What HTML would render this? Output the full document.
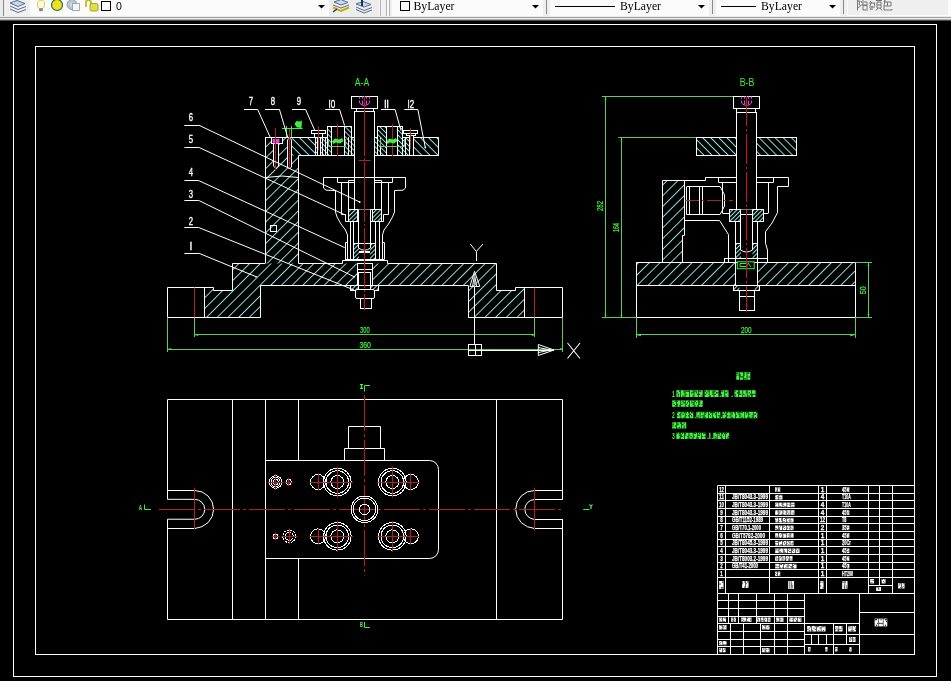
<!DOCTYPE html>
<html><head><meta charset="utf-8"><title>CAD</title>
<style>
html,body{margin:0;padding:0;background:#000;width:951px;height:681px;overflow:hidden;}
svg{position:absolute;left:0;top:0;display:block;will-change:transform}
</style></head><body>
<svg width="951" height="681" viewBox="0 0 951 681">
<defs>
<pattern id="hA" patternUnits="userSpaceOnUse" width="7.57" height="7.57" patternTransform="rotate(45)"><line x1="6.76" y1="0" x2="6.76" y2="7.57" stroke="#8ce6e6" stroke-width="1" shape-rendering="crispEdges"/></pattern>
<pattern id="hA3" patternUnits="userSpaceOnUse" width="7.57" height="7.57" patternTransform="rotate(45)"><line x1="4.26" y1="0" x2="4.26" y2="7.57" stroke="#8ce6e6" stroke-width="1" shape-rendering="crispEdges"/></pattern>
<pattern id="hA2" patternUnits="userSpaceOnUse" width="7.57" height="7.57" patternTransform="rotate(45)"><line x1="1.45" y1="0" x2="1.45" y2="7.57" stroke="#8ce6e6" stroke-width="1" shape-rendering="crispEdges"/></pattern>
<pattern id="hB" patternUnits="userSpaceOnUse" width="5.7" height="5.7" patternTransform="rotate(-45)"><line x1="0.8" y1="0" x2="0.8" y2="5.7" stroke="#8ce6e6" stroke-width="1" shape-rendering="crispEdges"/></pattern>
<pattern id="hC" patternUnits="userSpaceOnUse" width="3" height="3" patternTransform="rotate(45)"><line x1="0.5" y1="0" x2="0.5" y2="3" stroke="#8ce6e6" stroke-width="1" shape-rendering="crispEdges"/></pattern>
<pattern id="hD" patternUnits="userSpaceOnUse" width="3.5" height="3.5" patternTransform="rotate(-45)"><line x1="0.5" y1="0" x2="0.5" y2="3.5" stroke="#8ce6e6" stroke-width="1" shape-rendering="crispEdges"/></pattern>
</defs>

<rect x="0" y="0" width="951" height="16" fill="#fbfbfb"/>
<rect x="0" y="16" width="951" height="1" fill="#ececec"/>
<rect x="0" y="17" width="951" height="1" fill="#a2a2a2"/>
<rect x="0" y="18" width="951" height="1" fill="#ececec"/>
<rect x="0" y="19" width="951" height="1" fill="#b0b0b0"/>
<rect x="0" y="20" width="951" height="1" fill="#4a4a4a"/>
<rect x="0" y="0" width="3" height="16" fill="#ececec"/>
<rect x="3" y="0" width="1" height="16" fill="#8a8a8a"/>
<rect x="4" y="0" width="26" height="16" fill="#efefef"/>
<g fill="none" stroke="#5a6f8a" stroke-width="1"><path d="M10,3 L17,0.5 L25,3.5 L18,6.5 Z" fill="#c8d8ee"/><path d="M10,6 L18,9.5 L26,6.5"/><path d="M10,9 L18,12.5 L26,9.5"/></g>
<g><ellipse cx="41" cy="4.5" rx="3.6" ry="4.3" fill="#fffbd0" stroke="#c8c850" stroke-width="0.9"/><rect x="39.2" y="8.2" width="3.6" height="3" fill="#8080a0"/></g>
<circle cx="57" cy="5" r="5.5" fill="#f0e020" stroke="#207050" stroke-width="1.2"/>
<g><circle cx="72" cy="4.5" r="5" fill="#b8c8d0" stroke="#8aa0b0" stroke-width="1"/><circle cx="72" cy="4.5" r="2" fill="#d0dde0"/><rect x="72.5" y="3.5" width="7" height="7" fill="#f4f4f4" stroke="#8899aa" stroke-width="0.8"/></g>
<g><path d="M86,7 V2.5 Q86,0 88.5,0 Q91,0 91,2.5 V5" fill="none" stroke="#c0c020" stroke-width="1.8"/><rect x="90" y="3.5" width="8" height="7.5" rx="1.5" fill="#e0e040" stroke="#909010" stroke-width="0.8"/></g>
<rect x="101.5" y="1.5" width="9" height="9" fill="#fff" stroke="#000" stroke-width="1"/>
<text x="116" y="10" font-family="Liberation Sans" font-size="10.5" fill="#000">0</text>
<polygon points="318.0,5.0 325.0,5.0 321.5,8.5" fill="#000"/>
<rect x="329" y="0" width="50" height="16" fill="#ececec"/>
<g stroke="#5a6f8a" stroke-width="1" fill="none"><path d="M334,2 L341,-0.5 L348,2.5 L341,5 Z" fill="#c8d8ee"/><path d="M333,5 L341,8 L349,5"/><path d="M333,7.5 L341,11 L349,7.5" stroke="#c0b000" stroke-width="2"/><path d="M333,12 L337,9" stroke="#203080" stroke-width="1.3"/></g>
<g stroke="#5a6f8a" stroke-width="1" fill="none"><path d="M356,4 L363,1.5 L371,4.5 L364,7 Z" fill="#c8d8ee"/><path d="M356,7 L364,10.5 L372,7.5"/><path d="M356,9.5 L364,13 L372,10"/><path d="M362,0 V6" stroke="#203060" stroke-width="2"/></g>
<rect x="380" y="0" width="1" height="16" fill="#b0b0b0"/>
<rect x="386" y="0" width="1" height="16" fill="#b0b0b0"/>
<rect x="389" y="0" width="1" height="16" fill="#b0b0b0"/>
<rect x="381" y="0" width="5" height="16" fill="#f2f2f2"/>
<rect x="390" y="0" width="2" height="16" fill="#f0f0f0"/>
<rect x="400.5" y="1.5" width="9" height="9" fill="#fff" stroke="#000" stroke-width="1"/>
<text x="413.5" y="10.2" font-family="Liberation Serif" font-size="12.5" fill="#000" textLength="41" lengthAdjust="spacingAndGlyphs">ByLayer</text>
<polygon points="532.0,5.0 539.0,5.0 535.5,8.5" fill="#000"/>
<rect x="543" y="0" width="7" height="16" fill="#efefef"/>
<rect x="546" y="0" width="1" height="14" fill="#8a8a8a"/>
<rect x="555" y="6" width="60" height="1" fill="#000"/>
<text x="620" y="10.2" font-family="Liberation Serif" font-size="12.5" fill="#000" textLength="41" lengthAdjust="spacingAndGlyphs">ByLayer</text>
<polygon points="698.0,5.0 705.0,5.0 701.5,8.5" fill="#000"/>
<rect x="709" y="0" width="7" height="16" fill="#efefef"/>
<rect x="712" y="0" width="1" height="14" fill="#8a8a8a"/>
<rect x="721" y="6" width="35" height="1" fill="#000"/>
<text x="761" y="10.2" font-family="Liberation Serif" font-size="12.5" fill="#000" textLength="41" lengthAdjust="spacingAndGlyphs">ByLayer</text>
<polygon points="829.0,5.0 836.0,5.0 832.5,8.5" fill="#000"/>
<rect x="840" y="0" width="7" height="16" fill="#efefef"/>
<rect x="843" y="0" width="1" height="14" fill="#8a8a8a"/>
<rect x="848" y="0" width="100" height="15" fill="#efefef"/>
<g stroke="#767676" stroke-width="1" fill="none"><path d="M857.5,0 V10.5 M857.5,1 H860 L859,4 L860.5,6 L858,8 M861,1 L862,3 M861,5 H867 M863,0 V10 H868 M864,2 H867 V9 M864,5.5 H867"/><path d="M870,1 L872,3 M869,3 H875 M871,3 L870,6 M874,3 L875,6 M869,7 H875 M872,6 V10 M870,10 L871,8 M876,0.5 H882 M877,2 V8 H881 V2 Z M877,5 H881 M878,8 L876,10.5 M880,8 L882,10.5"/><path d="M885,0 L884,2 H891 V6 H884 Z M887.5,2 V6 M884,6 V10 H892 V9"/></g>
<rect x="13.5" y="24.5" width="923.0" height="652.0" stroke="#ffffff" stroke-width="1" fill="none"/>
<rect x="35.5" y="46.5" width="879.0" height="608.0" stroke="#ffffff" stroke-width="1" fill="none"/>
<polygon points="204.5,287.5 213,287.5 213,290.5 232.5,290.5 232.5,263.5 357,263.5 357,285.4 260.5,285.4 260.5,317.5 204.5,317.5" fill="url(#hA)" stroke="none"/>
<polygon points="372.3,263.5 496.6,263.5 496.6,290.7 515,290.7 515,287.6 524.5,287.6 524.5,317.5 468.2,317.5 468.2,285.4 372.3,285.4" fill="url(#hA)" stroke="none"/>
<rect x="265.2" y="137.2" width="26.30000000000001" height="18.30000000000001" fill="url(#hA3)"/>
<rect x="265.2" y="155.5" width="33.30000000000001" height="108.0" fill="url(#hA3)"/>
<rect x="291.5" y="137.2" width="23.69999999999999" height="18.30000000000001" fill="url(#hB)"/>
<rect x="315.2" y="137.2" width="12.100000000000023" height="18.30000000000001" fill="url(#hD)"/>
<rect x="327.3" y="126.6" width="4.199999999999989" height="10.599999999999994" fill="url(#hD)"/>
<rect x="344.1" y="126.6" width="7.399999999999977" height="10.599999999999994" fill="url(#hD)"/>
<rect x="327.3" y="137.2" width="4.199999999999989" height="18.30000000000001" fill="url(#hD)"/>
<rect x="344.1" y="137.2" width="10.099999999999966" height="18.30000000000001" fill="url(#hD)"/>
<rect x="377.5" y="126.7" width="9.100000000000023" height="10.799999999999997" fill="url(#hD)"/>
<rect x="397.2" y="126.7" width="4.800000000000011" height="10.799999999999997" fill="url(#hD)"/>
<rect x="374.9" y="137.5" width="11.700000000000045" height="18.099999999999994" fill="url(#hD)"/>
<rect x="397.2" y="137.5" width="11.800000000000011" height="18.099999999999994" fill="url(#hD)"/>
<rect x="413.8" y="137.5" width="25.0" height="18.099999999999994" fill="url(#hB)"/>
<rect x="348.3" y="209.6" width="8.699999999999989" height="12.300000000000011" fill="url(#hC)"/>
<rect x="372" y="209.6" width="9.600000000000023" height="12.300000000000011" fill="url(#hC)"/>
<rect x="353.5" y="243.6" width="5.5" height="15.400000000000006" fill="url(#hC)"/>
<rect x="370" y="243.6" width="5.5" height="15.400000000000006" fill="url(#hC)"/>
<rect x="350.3" y="285.4" width="8.5" height="5.100000000000023" fill="url(#hC)"/>
<rect x="370.8" y="285.4" width="7.399999999999977" height="5.100000000000023" fill="url(#hC)"/>
<polyline points="167.5,287.5 213.5,287.5 213.5,290.5 232.5,290.5 232.5,263.5 265.2,263.5" stroke="#ffffff" stroke-width="1" fill="none"/>
<polyline points="298.5,263.5 342.5,263.5 342.5,260.5 387.5,260.5 387.5,263.5 496.5,263.5 496.5,290.5 515.5,290.5 515.5,287.5 562.5,287.5 562.5,317.5 468.2,317.5" stroke="#ffffff" stroke-width="1" fill="none"/>
<polyline points="260.5,317.5 167.5,317.5 167.5,287.5" stroke="#ffffff" stroke-width="1" fill="none"/>
<line x1="204.5" y1="287.5" x2="204.5" y2="317.5" stroke="#ffffff" stroke-width="1" />
<line x1="524.5" y1="287.6" x2="524.5" y2="317.5" stroke="#ffffff" stroke-width="1" />
<line x1="260.5" y1="285.5" x2="357" y2="285.5" stroke="#ffffff" stroke-width="1" />
<line x1="372.3" y1="285.5" x2="468.2" y2="285.5" stroke="#ffffff" stroke-width="1" />
<line x1="260.5" y1="285.4" x2="260.5" y2="317.5" stroke="#ffffff" stroke-width="1" />
<line x1="468.5" y1="285.4" x2="468.5" y2="317.5" stroke="#ffffff" stroke-width="1" />
<line x1="194.5" y1="287.5" x2="194.5" y2="317.5" stroke="#b02222" stroke-width="1" />
<line x1="534.5" y1="287.6" x2="534.5" y2="317.5" stroke="#b02222" stroke-width="1" />
<line x1="357.5" y1="263.5" x2="357.5" y2="285.4" stroke="#ffffff" stroke-width="1" />
<line x1="372.5" y1="263.5" x2="372.5" y2="285.4" stroke="#ffffff" stroke-width="1" />
<rect x="357.5" y="263.5" width="15.0" height="6.0" stroke="#ffffff" stroke-width="1" fill="none"/>
<line x1="265.5" y1="137.2" x2="265.5" y2="263.5" stroke="#ffffff" stroke-width="1" />
<line x1="298.5" y1="155.5" x2="298.5" y2="263.5" stroke="#ffffff" stroke-width="1" />
<path d="M265.2,177.5 Q282,174.5 298.5,177.5" stroke="#fff" fill="none" stroke-width="1"/>
<rect x="270.5" y="225.5" width="6.0" height="6.0" stroke="#ffffff" stroke-width="1" fill="none"/>
<line x1="265.2" y1="137.5" x2="327.3" y2="137.5" stroke="#ffffff" stroke-width="1" />
<line x1="351.5" y1="137.5" x2="354.2" y2="137.5" stroke="#ffffff" stroke-width="1" />
<line x1="298.5" y1="155.5" x2="354.2" y2="155.5" stroke="#ffffff" stroke-width="1" />
<line x1="374.9" y1="137.5" x2="377.5" y2="137.5" stroke="#ffffff" stroke-width="1" />
<line x1="402" y1="137.5" x2="438.8" y2="137.5" stroke="#ffffff" stroke-width="1" />
<line x1="374.9" y1="155.5" x2="438.8" y2="155.5" stroke="#ffffff" stroke-width="1" />
<line x1="438.5" y1="137.5" x2="438.5" y2="155.6" stroke="#ffffff" stroke-width="1" />
<line x1="315.5" y1="137.2" x2="315.5" y2="155.5" stroke="#ffffff" stroke-width="1" />
<rect x="271.5" y="137.5" width="11.0" height="6.0" stroke="#ffffff" stroke-width="1" fill="#000"/>
<path d="M273.5,143.9 V166 L276,168.5 L278.5,166 V143.9" fill="#000" stroke="#fff"/>
<path d="M272.5,139 h7 v3 l-1.5,1.5 h-4 l-1.5,-1.5 z" fill="#e040e0"/>
<line x1="275.5" y1="128" x2="275.5" y2="170" stroke="#b02222" stroke-width="1" />
<path d="M287.5,167 V140 Q289.5,136.5 291.5,140 V167 L289.5,169 Z" fill="#000" stroke="#fff"/>
<line x1="289.5" y1="128" x2="289.5" y2="168" stroke="#b02222" stroke-width="1.3" />
<line x1="282" y1="128.5" x2="302.6" y2="128.5" stroke="#3cf03c" stroke-width="1" />
<line x1="286.5" y1="126" x2="286.5" y2="137" stroke="#3cf03c" stroke-width="1" />
<line x1="291.5" y1="126" x2="291.5" y2="137" stroke="#3cf03c" stroke-width="1" />
<path d="M294.5,124 L296.5,121 L300,121.5 L302,120.5 L301.5,128 L297,127.5 L295.5,125.5 Z" fill="#3cf03c"/>
<rect x="311.5" y="130.5" width="14.0" height="3.0" stroke="#ffffff" stroke-width="1" fill="#000"/>
<rect x="314.5" y="133.5" width="8.0" height="4.0" stroke="#ffffff" stroke-width="1" fill="#000"/>
<rect x="317.5" y="137.5" width="3.0" height="18.0" stroke="#ffffff" stroke-width="1" fill="#000"/>
<line x1="318.5" y1="126" x2="318.5" y2="150" stroke="#b02222" stroke-width="1" />
<line x1="322.5" y1="137.2" x2="322.5" y2="155.5" stroke="#ffffff" stroke-width="1" />
<line x1="325.5" y1="137.2" x2="325.5" y2="155.5" stroke="#ffffff" stroke-width="1" />
<line x1="348.5" y1="137.2" x2="348.5" y2="155.5" stroke="#ffffff" stroke-width="1" />
<line x1="380.5" y1="137.5" x2="380.5" y2="155.6" stroke="#ffffff" stroke-width="1" />
<line x1="405.5" y1="137.5" x2="405.5" y2="155.6" stroke="#ffffff" stroke-width="1" />
<rect x="327.5" y="126.5" width="24.0" height="29.0" stroke="#ffffff" stroke-width="1" fill="none"/>
<line x1="331.5" y1="126.6" x2="331.5" y2="155.5" stroke="#ffffff" stroke-width="1" />
<line x1="344.5" y1="126.6" x2="344.5" y2="155.5" stroke="#ffffff" stroke-width="1" />
<line x1="337.5" y1="124" x2="337.5" y2="156" stroke="#b02222" stroke-width="1" />
<path d="M332,141 L335,138.5 L339,139.5 L342,138 L343.5,141 L340,143.5 L336,142.5 L333,144 Z" fill="#3cf03c"/>
<polyline points="328.5,139 328.5,146.5 345.5,146.5 345.5,139" stroke="#62c862" stroke-width="1" fill="none"/>
<rect x="377.5" y="126.5" width="25.0" height="29.0" stroke="#ffffff" stroke-width="1" fill="none"/>
<line x1="386.5" y1="126.7" x2="386.5" y2="155.6" stroke="#ffffff" stroke-width="1" />
<line x1="397.5" y1="126.7" x2="397.5" y2="155.6" stroke="#ffffff" stroke-width="1" />
<line x1="392.5" y1="124" x2="392.5" y2="156" stroke="#b02222" stroke-width="1" />
<path d="M386.5,141 L389.5,138.5 L393,139.5 L396,138 L397.5,141 L394,143.5 L390,142.5 L387.5,144 Z" fill="#3cf03c"/>
<polyline points="380.5,138.7 380.5,146.5 404.5,146.5 404.5,138.7" stroke="#62c862" stroke-width="1" fill="none"/>
<rect x="403.5" y="130.5" width="14.0" height="3.0" stroke="#ffffff" stroke-width="1" fill="#000"/>
<rect x="406.5" y="133.5" width="9.0" height="2.0" stroke="#ffffff" stroke-width="1" fill="#000"/>
<rect x="409.5" y="135.5" width="4.0" height="20.0" stroke="#ffffff" stroke-width="1" fill="#000"/>
<line x1="410.5" y1="128" x2="410.5" y2="149" stroke="#b02222" stroke-width="1" />
<rect x="354.5" y="111.5" width="20.0" height="98.0" stroke="#ffffff" stroke-width="1" fill="#000"/>
<rect x="351.5" y="96.5" width="26.0" height="12.0" stroke="#ffffff" stroke-width="1" fill="#000"/>
<rect x="356.5" y="108.5" width="17.0" height="3.0" stroke="#ffffff" stroke-width="1" fill="#000"/>
<g stroke="#e040e0" stroke-width="1" fill="none"><path d="M359.5,96.5 V98.8 M362.5,96.5 V98.8 M366.5,96.5 V98.8 M369.5,96.5 V98.8 M359.5,100.5 V103 Q364.5,108 369.5,103 V100.5 M362.5,100.5 V104.5 M366.5,100.5 V104.5"/></g>
<line x1="358.9" y1="160.5" x2="370.7" y2="160.5" stroke="#b02222" stroke-width="1" />
<polyline points="347.5,259 347.5,235 345.5,230 341,224 337,217 335.5,212 335.5,190.5 326,190.2 323.5,188 323.5,177.5 405.5,177.5 405.5,188 403,190.2 394.5,190.5 394.5,212 392.5,217 388.5,224 384,230 382.5,235 382.5,259" stroke="#ffffff" stroke-width="1" fill="none"/>
<polyline points="337.5,177.4 337.5,182.5 354.2,182.5" stroke="#ffffff" stroke-width="1" fill="none"/>
<polyline points="374.9,182.5 392.5,182.5 392.5,177.4" stroke="#ffffff" stroke-width="1" fill="none"/>
<line x1="341.5" y1="182.3" x2="341.5" y2="214.7" stroke="#ffffff" stroke-width="1" />
<line x1="388.5" y1="182.3" x2="388.5" y2="214.7" stroke="#ffffff" stroke-width="1" />
<polyline points="348.5,209.6 348.5,180.5 354.2,180.5" stroke="#ffffff" stroke-width="1" fill="none"/>
<polyline points="381.5,209.6 381.5,180.5 374.9,180.5" stroke="#ffffff" stroke-width="1" fill="none"/>
<polyline points="341.6,214.5 345.5,214.5 345.5,221.5 383.5,221.5 383.5,214.5 388.3,214.5" stroke="#ffffff" stroke-width="1" fill="none"/>
<rect x="348.5" y="209.5" width="9.0" height="12.0" stroke="#ffffff" stroke-width="1" fill="none"/>
<rect x="372.5" y="209.5" width="9.0" height="12.0" stroke="#ffffff" stroke-width="1" fill="none"/>
<line x1="357" y1="209.5" x2="372" y2="209.5" stroke="#ffffff" stroke-width="1" />
<path d="M358.5,209.6 V248 Q364.5,252.5 370.5,248 V209.6" fill="#000" stroke="#fff"/>
<line x1="359" y1="251.5" x2="370" y2="251.5" stroke="#ffffff" stroke-width="1" />
<line x1="359" y1="252.5" x2="370" y2="252.5" stroke="#ffffff" stroke-width="1" />
<line x1="350.5" y1="222" x2="350.5" y2="259" stroke="#ffffff" stroke-width="1" />
<line x1="353.5" y1="222" x2="353.5" y2="259" stroke="#ffffff" stroke-width="1" />
<line x1="375.5" y1="222" x2="375.5" y2="259" stroke="#ffffff" stroke-width="1" />
<line x1="379.5" y1="222" x2="379.5" y2="259" stroke="#ffffff" stroke-width="1" />
<polyline points="347.6,242.5 345.5,242.5 345.5,259" stroke="#ffffff" stroke-width="1" fill="none"/>
<polyline points="382.3,242.5 384.5,242.5 384.5,259" stroke="#ffffff" stroke-width="1" fill="none"/>
<line x1="345" y1="259.5" x2="384.6" y2="259.5" stroke="#ffffff" stroke-width="1" />
<rect x="353.5" y="243.5" width="22.0" height="16.0" stroke="#ffffff" stroke-width="1" fill="none"/>
<rect x="358.5" y="272.5" width="12.0" height="19.0" stroke="#ffffff" stroke-width="1" fill="#000"/>
<rect x="350.5" y="285.5" width="28.0" height="5.0" stroke="#ffffff" stroke-width="1" fill="none"/>
<rect x="355.5" y="289.5" width="19.0" height="9.0" stroke="#ffffff" stroke-width="1" fill="#000" rx="1.5"/>
<rect x="360.5" y="298.5" width="11.0" height="10.0" stroke="#ffffff" stroke-width="1" fill="#000"/>
<line x1="364.5" y1="96" x2="364.5" y2="310" stroke="#b02222" stroke-width="1.2" stroke-dasharray="60,2,2,2"/>
<line x1="184.4" y1="125.5" x2="198.7" y2="125.5" stroke="#ffffff" stroke-width="1" />
<line x1="198.7" y1="125.1" x2="359.7" y2="202" stroke="#ffffff" stroke-width="1" />
<text x="191" y="121.2" font-family="Liberation Sans" font-size="10.8" fill="#ffffff" text-anchor="middle" stroke="#fff" stroke-width="0.35" textLength="4.3" lengthAdjust="spacingAndGlyphs">6</text>
<line x1="184.4" y1="147.5" x2="198.7" y2="147.5" stroke="#ffffff" stroke-width="1" />
<line x1="198.7" y1="147.3" x2="345.7" y2="215.2" stroke="#ffffff" stroke-width="1" />
<text x="191" y="142.5" font-family="Liberation Sans" font-size="10.8" fill="#ffffff" text-anchor="middle" stroke="#fff" stroke-width="0.35" textLength="4.3" lengthAdjust="spacingAndGlyphs">5</text>
<line x1="184.4" y1="180.5" x2="198.7" y2="180.5" stroke="#ffffff" stroke-width="1" />
<line x1="198.7" y1="180.6" x2="344.7" y2="247.6" stroke="#ffffff" stroke-width="1" />
<text x="191" y="175.7" font-family="Liberation Sans" font-size="10.8" fill="#ffffff" text-anchor="middle" stroke="#fff" stroke-width="0.35" textLength="4.3" lengthAdjust="spacingAndGlyphs">4</text>
<line x1="184.4" y1="200.5" x2="198.7" y2="200.5" stroke="#ffffff" stroke-width="1" />
<line x1="198.7" y1="200.4" x2="355" y2="277.2" stroke="#ffffff" stroke-width="1" />
<text x="191" y="197.7" font-family="Liberation Sans" font-size="10.8" fill="#ffffff" text-anchor="middle" stroke="#fff" stroke-width="0.35" textLength="4.3" lengthAdjust="spacingAndGlyphs">3</text>
<line x1="184.4" y1="227.5" x2="198.7" y2="227.5" stroke="#ffffff" stroke-width="1" />
<line x1="198.7" y1="227.5" x2="354" y2="290" stroke="#ffffff" stroke-width="1" />
<text x="191" y="224.7" font-family="Liberation Sans" font-size="10.8" fill="#ffffff" text-anchor="middle" stroke="#fff" stroke-width="0.35" textLength="4.3" lengthAdjust="spacingAndGlyphs">2</text>
<line x1="184.4" y1="253.5" x2="198.7" y2="253.5" stroke="#ffffff" stroke-width="1" />
<line x1="198.7" y1="253.2" x2="256" y2="276.7" stroke="#ffffff" stroke-width="1" />
<text x="191" y="250.2" font-family="Liberation Sans" font-size="10.8" fill="#ffffff" text-anchor="middle" stroke="#fff" stroke-width="0.35">l</text>
<circle cx="256" cy="276.7" r="0.9" fill="#fff"/>
<circle cx="359.7" cy="202" r="0.9" fill="#fff"/>
<line x1="244" y1="109.5" x2="257.6" y2="109.5" stroke="#ffffff" stroke-width="1" />
<line x1="257.6" y1="109.3" x2="270.2" y2="137.2" stroke="#ffffff" stroke-width="1" />
<text x="250.8" y="105.2" font-family="Liberation Sans" font-size="10.8" fill="#ffffff" text-anchor="middle" stroke="#fff" stroke-width="0.35" textLength="4.3" lengthAdjust="spacingAndGlyphs">7</text>
<line x1="265.1" y1="109.5" x2="279.4" y2="109.5" stroke="#ffffff" stroke-width="1" />
<line x1="279.4" y1="109.3" x2="287.9" y2="138" stroke="#ffffff" stroke-width="1" />
<text x="273" y="105.2" font-family="Liberation Sans" font-size="10.8" fill="#ffffff" text-anchor="middle" stroke="#fff" stroke-width="0.35" textLength="4.3" lengthAdjust="spacingAndGlyphs">8</text>
<line x1="292" y1="109.5" x2="305.5" y2="109.5" stroke="#ffffff" stroke-width="1" />
<line x1="305.5" y1="109.3" x2="314.8" y2="130.5" stroke="#ffffff" stroke-width="1" />
<text x="298.8" y="105.2" font-family="Liberation Sans" font-size="10.8" fill="#ffffff" text-anchor="middle" stroke="#fff" stroke-width="0.35" textLength="4.3" lengthAdjust="spacingAndGlyphs">9</text>
<line x1="325.2" y1="109.5" x2="339.5" y2="109.5" stroke="#ffffff" stroke-width="1" />
<line x1="339.5" y1="109.3" x2="344.6" y2="125.6" stroke="#ffffff" stroke-width="1" />
<text x="332" y="107.7" font-family="Liberation Sans" font-size="10.8" fill="#ffffff" text-anchor="middle" stroke="#fff" stroke-width="0.35" textLength="6.3" lengthAdjust="spacingAndGlyphs">l0</text>
<line x1="381" y1="109.5" x2="395" y2="109.5" stroke="#ffffff" stroke-width="1" />
<line x1="395" y1="109.3" x2="401" y2="130.7" stroke="#ffffff" stroke-width="1" />
<text x="386.6" y="107.7" font-family="Liberation Sans" font-size="10.8" fill="#ffffff" text-anchor="middle" stroke="#fff" stroke-width="0.35" textLength="4.5" lengthAdjust="spacingAndGlyphs">ll</text>
<line x1="404.3" y1="109.5" x2="417.8" y2="109.5" stroke="#ffffff" stroke-width="1" />
<line x1="417.8" y1="109.3" x2="425.3" y2="147.5" stroke="#ffffff" stroke-width="1" />
<text x="411" y="107.7" font-family="Liberation Sans" font-size="10.8" fill="#ffffff" text-anchor="middle" stroke="#fff" stroke-width="0.35" textLength="6.3" lengthAdjust="spacingAndGlyphs">l2</text>
<circle cx="425.3" cy="147.5" r="0.9" fill="#fff"/>
<text x="362" y="86" font-family="Liberation Sans" font-size="10.5" fill="#3cf03c" text-anchor="middle" textLength="14.5" lengthAdjust="spacingAndGlyphs">A-A</text>
<line x1="194.5" y1="317.5" x2="194.5" y2="337" stroke="#62c862" stroke-width="1" />
<line x1="534.5" y1="317.5" x2="534.5" y2="337" stroke="#62c862" stroke-width="1" />
<line x1="194.6" y1="334.5" x2="534.6" y2="334.5" stroke="#62c862" stroke-width="1" />
<line x1="167.5" y1="317.5" x2="167.5" y2="352" stroke="#62c862" stroke-width="1" />
<line x1="562.5" y1="317.5" x2="562.5" y2="352" stroke="#62c862" stroke-width="1" />
<line x1="167.5" y1="349.5" x2="562.5" y2="349.5" stroke="#62c862" stroke-width="1" />
<polygon points="195,335 198.1,334 198.1,336" fill="#3cf03c"/><polygon points="535,335 531.9,334 531.9,336" fill="#3cf03c"/>
<polygon points="168,349 171.1,348 171.1,350" fill="#3cf03c"/><polygon points="563,349 559.9,348 559.9,350" fill="#3cf03c"/>
<text x="364.8" y="333" font-family="Liberation Sans" font-size="8.5" fill="#3cf03c" text-anchor="middle" stroke="#3cf03c" stroke-width="0.25" textLength="9.5" lengthAdjust="spacingAndGlyphs">300</text>
<text x="365.2" y="347.8" font-family="Liberation Sans" font-size="8.5" fill="#3cf03c" text-anchor="middle" stroke="#3cf03c" stroke-width="0.25" textLength="11.5" lengthAdjust="spacingAndGlyphs">360</text>
<line x1="474.5" y1="286.4" x2="474.5" y2="344.1" stroke="#ffffff" stroke-width="1" />
<polygon points="474.5,271.3 469.9,286.4 479.8,286.4" fill="none" stroke="#fff"/>
<line x1="472.6" y1="286.4" x2="474.5" y2="274.5" stroke="#ffffff" stroke-width="1" />
<line x1="476.6" y1="286.4" x2="474.5" y2="274.5" stroke="#ffffff" stroke-width="1" />
<line x1="474.5" y1="275" x2="474.5" y2="286.4" stroke="#aaa" stroke-width="1" />
<path d="M470.3,244 L476.3,251.5 L483,244 M476.5,251.5 V261" stroke="#fff" fill="none" stroke-width="1"/>
<rect x="468.5" y="344.5" width="13.0" height="11.0" stroke="#ffffff" stroke-width="1" fill="none"/>
<line x1="475.5" y1="344.1" x2="475.5" y2="355.9" stroke="#ffffff" stroke-width="1" />
<line x1="468.2" y1="350.5" x2="481.7" y2="350.5" stroke="#ffffff" stroke-width="1" />
<line x1="481.7" y1="350.5" x2="554" y2="350.5" stroke="#ffffff" stroke-width="1" />
<polygon points="554,350 538.3,344.5 538.3,355.5" fill="none" stroke="#fff"/>
<line x1="538.3" y1="347.5" x2="551" y2="350" stroke="#ffffff" stroke-width="1" />
<line x1="538.3" y1="352.5" x2="551" y2="350" stroke="#ffffff" stroke-width="1" />
<path d="M567.5,343 L580,358.5 M580,343 L567.5,358.5" stroke="#fff" fill="none" stroke-width="1.1"/>
<polygon points="636.4,262.9 735.8,262.9 735.8,285.7 636.4,285.7" fill="url(#hA2)" stroke="none"/>
<polygon points="757.8,262.9 855.2,262.9 855.2,285.7 757.8,285.7" fill="url(#hA2)" stroke="none"/>
<polygon points="662.5,180.5 684.9,180.5 684.9,235 682.4,235 682.4,262.9 662.5,262.9" fill="url(#hA2)" stroke="none"/>
<rect x="696" y="137.2" width="40.200000000000045" height="18.30000000000001" fill="url(#hB)"/>
<rect x="756.6" y="137.2" width="39.39999999999998" height="18.30000000000001" fill="url(#hB)"/>
<rect x="729.2" y="209.4" width="11.0" height="12.0" fill="url(#hC)"/>
<rect x="752" y="209.4" width="11" height="12.0" fill="url(#hC)"/>
<rect x="735.8" y="243.4" width="5.2000000000000455" height="15.499999999999972" fill="url(#hC)"/>
<rect x="752.5" y="243.4" width="5.2999999999999545" height="15.499999999999972" fill="url(#hC)"/>
<rect x="733.5" y="285.7" width="5.899999999999977" height="4.600000000000023" fill="url(#hC)"/>
<rect x="754.6" y="285.7" width="4.699999999999932" height="4.600000000000023" fill="url(#hC)"/>
<rect x="636.5" y="262.5" width="219.0" height="55.0" stroke="#ffffff" stroke-width="1" fill="none"/>
<line x1="636.4" y1="285.5" x2="735.8" y2="285.5" stroke="#ffffff" stroke-width="1" />
<line x1="757.8" y1="285.5" x2="855.2" y2="285.5" stroke="#ffffff" stroke-width="1" />
<line x1="735.5" y1="262.9" x2="735.5" y2="285.7" stroke="#ffffff" stroke-width="1" />
<line x1="757.5" y1="262.9" x2="757.5" y2="285.7" stroke="#ffffff" stroke-width="1" />
<polyline points="662.5,262.9 662.5,180.5 705.5,180.5 705.5,177.5 788.5,177.5 788.5,186.5 777.5,186.5 777.5,212.6 772,223 765.5,231.7 765.5,243.4 767.5,250 767.5,262.9" stroke="#ffffff" stroke-width="1" fill="none"/>
<polyline points="684.5,180.5 684.5,235.5 682.5,235.5 682.5,262.9" stroke="#ffffff" stroke-width="1" fill="none"/>
<polyline points="686.6,186.5 720,186.5 722,190 724.5,195 724.5,206 722,211 720,214.5 686.5,214.5 686.5,186.9" stroke="#ffffff" stroke-width="1" fill="none"/>
<line x1="699.5" y1="186.9" x2="699.5" y2="214.1" stroke="#ffffff" stroke-width="1" />
<line x1="702.5" y1="186.9" x2="702.5" y2="214.1" stroke="#ffffff" stroke-width="1" />
<line x1="689.5" y1="186.9" x2="689.5" y2="214.1" stroke="#ffffff" stroke-width="1" />
<line x1="684.9" y1="220.5" x2="719.7" y2="220.5" stroke="#ffffff" stroke-width="1" />
<polyline points="719.7,220.7 728.5,234.6 728.5,262.9" stroke="#ffffff" stroke-width="1" fill="none"/>
<polyline points="718.5,177.3 718.5,182.5 736.2,182.5" stroke="#ffffff" stroke-width="1" fill="none"/>
<polyline points="756.6,182.5 773.5,182.5 773.5,177.3" stroke="#ffffff" stroke-width="1" fill="none"/>
<line x1="722.5" y1="182.5" x2="722.5" y2="213.3" stroke="#ffffff" stroke-width="1" />
<line x1="768.5" y1="182.5" x2="768.5" y2="213.3" stroke="#ffffff" stroke-width="1" />
<polyline points="722.6,213.5 729.2,213.5" stroke="#ffffff" stroke-width="1" fill="none"/>
<polyline points="763,213.5 768.1,213.5" stroke="#ffffff" stroke-width="1" fill="none"/>
<rect x="729.5" y="209.5" width="34.0" height="12.0" stroke="#ffffff" stroke-width="1" fill="none"/>
<line x1="735.5" y1="221.4" x2="735.5" y2="262.9" stroke="#ffffff" stroke-width="1" />
<line x1="757.5" y1="221.4" x2="757.5" y2="262.9" stroke="#ffffff" stroke-width="1" />
<rect x="735.5" y="243.5" width="22.0" height="15.0" stroke="#ffffff" stroke-width="1" fill="none"/>
<rect x="724.5" y="258.5" width="43.0" height="4.0" stroke="#ffffff" stroke-width="1" fill="none"/>
<rect x="736.5" y="112.5" width="20.0" height="97.0" stroke="#ffffff" stroke-width="1" fill="#000"/>
<rect x="733.5" y="96.5" width="26.0" height="12.0" stroke="#ffffff" stroke-width="1" fill="#000"/>
<rect x="736.5" y="108.5" width="19.0" height="4.0" stroke="#ffffff" stroke-width="1" fill="#000"/>
<g stroke="#e040e0" stroke-width="1" fill="none"><path d="M741.5,96.5 V98.8 M744.5,96.5 V98.8 M748.5,96.5 V98.8 M751.5,96.5 V98.8 M741.5,100.5 V103 Q746.5,108 751.5,103 V100.5 M744.5,100.5 V104.5 M748.5,100.5 V104.5"/></g>
<path d="M740.5,209.4 V250 Q746.5,254 752.5,250 V209.4" fill="#000" stroke="#fff"/>
<line x1="740.2" y1="214.5" x2="752" y2="214.5" stroke="#ffffff" stroke-width="1" />
<rect x="737.3" y="261.8" width="16.9" height="6.9" fill="#000" stroke="#3cf03c"/>
<path d="M740,263.5 h7 v3 h-7 z M748,263 l3,4" stroke="#3cf03c" fill="none"/>
<rect x="733.5" y="285.5" width="26.0" height="5.0" stroke="#ffffff" stroke-width="1" fill="none"/>
<rect x="739.5" y="290.5" width="15.0" height="20.0" stroke="#ffffff" stroke-width="1" fill="#000"/>
<line x1="739.4" y1="296.5" x2="754.7" y2="296.5" stroke="#ffffff" stroke-width="1" />
<rect x="696.5" y="137.5" width="40.0" height="18.0" stroke="#ffffff" stroke-width="1" fill="none"/>
<rect x="756.5" y="137.5" width="40.0" height="18.0" stroke="#ffffff" stroke-width="1" fill="none"/>
<line x1="746.6" y1="96" x2="746.6" y2="312" stroke="#b02222" stroke-width="1.2" stroke-dasharray="30,3,2,3"/>
<line x1="685" y1="200.5" x2="733" y2="200.5" stroke="#b02222" stroke-width="1.2" stroke-dasharray="14,3,2,3"/>
<text x="747" y="85.7" font-family="Liberation Sans" font-size="10.5" fill="#3cf03c" text-anchor="middle" textLength="14.7" lengthAdjust="spacingAndGlyphs">B-B</text>
<line x1="601.8" y1="96.5" x2="733" y2="96.5" stroke="#62c862" stroke-width="1" />
<line x1="618.3" y1="137.5" x2="696" y2="137.5" stroke="#62c862" stroke-width="1" />
<line x1="605.5" y1="96.3" x2="605.5" y2="317.2" stroke="#62c862" stroke-width="1" />
<line x1="621.5" y1="137.2" x2="621.5" y2="317.2" stroke="#62c862" stroke-width="1" />
<line x1="602" y1="317.5" x2="636.4" y2="317.5" stroke="#62c862" stroke-width="1" />
<polygon points="605.5,96.5 604.5,99.6 606.5,99.6" fill="#3cf03c"/><polygon points="621.5,137.5 620.5,140.6 622.5,140.6" fill="#3cf03c"/>
<polygon points="605.5,317.5 604.5,314.4 606.5,314.4" fill="#3cf03c"/><polygon points="621.5,317.5 620.5,314.4 622.5,314.4" fill="#3cf03c"/>
<text x="0" y="0" font-family="Liberation Sans" font-size="8.5" fill="#3cf03c" text-anchor="middle" stroke="#3cf03c" stroke-width="0.25" transform="translate(603,206) rotate(-90)" textLength="10" lengthAdjust="spacingAndGlyphs">282</text>
<text x="0" y="0" font-family="Liberation Sans" font-size="8.5" fill="#3cf03c" text-anchor="middle" stroke="#3cf03c" stroke-width="0.25" transform="translate(618.8,227.6) rotate(-90)" textLength="9" lengthAdjust="spacingAndGlyphs">164</text>
<line x1="636.5" y1="317.2" x2="636.5" y2="338" stroke="#62c862" stroke-width="1" />
<line x1="855.5" y1="317.2" x2="855.5" y2="338" stroke="#62c862" stroke-width="1" />
<line x1="636.4" y1="334.5" x2="855.2" y2="334.5" stroke="#62c862" stroke-width="1" />
<polygon points="636.4,335.1 640.9,333.9 640.9,336.3" fill="#3cf03c"/><polygon points="855.2,335.1 850.2,333.9 850.2,336.3" fill="#3cf03c"/>
<text x="746.3" y="332.6" font-family="Liberation Sans" font-size="8.5" fill="#3cf03c" text-anchor="middle" stroke="#3cf03c" stroke-width="0.25" textLength="10.6" lengthAdjust="spacingAndGlyphs">200</text>
<line x1="855.2" y1="262.5" x2="872" y2="262.5" stroke="#62c862" stroke-width="1" />
<line x1="855.2" y1="317.5" x2="872" y2="317.5" stroke="#62c862" stroke-width="1" />
<line x1="868.5" y1="262.9" x2="868.5" y2="317.2" stroke="#62c862" stroke-width="1" />
<polygon points="868.5,262.9 867.5,266 869.5,266" fill="#3cf03c"/><polygon points="868.5,317.2 867.5,314.1 869.5,314.1" fill="#3cf03c"/>
<text x="0" y="0" font-family="Liberation Sans" font-size="8.5" fill="#3cf03c" text-anchor="middle" stroke="#3cf03c" stroke-width="0.25" transform="translate(865.8,290.3) rotate(-90)" textLength="8" lengthAdjust="spacingAndGlyphs">50</text>
<polyline points="167.5,490.5 167.5,399.5 562.5,399.5 562.5,490.4" stroke="#ffffff" stroke-width="1" fill="none"/>
<polyline points="167.5,528.1 167.5,619.5 562.5,619.5 562.5,528.3" stroke="#ffffff" stroke-width="1" fill="none"/>
<line x1="167.5" y1="490.5" x2="167.5" y2="499.3" stroke="#ffffff" stroke-width="1" />
<line x1="167.5" y1="519.2" x2="167.5" y2="528.1" stroke="#ffffff" stroke-width="1" />
<line x1="562.5" y1="490.4" x2="562.5" y2="499.6" stroke="#ffffff" stroke-width="1" />
<line x1="562.5" y1="519.2" x2="562.5" y2="528.3" stroke="#ffffff" stroke-width="1" />
<line x1="232.5" y1="399.5" x2="232.5" y2="619.5" stroke="#ffffff" stroke-width="1" />
<line x1="265.5" y1="399.5" x2="265.5" y2="619.5" stroke="#ffffff" stroke-width="1" />
<line x1="298.5" y1="399.5" x2="298.5" y2="460.5" stroke="#ffffff" stroke-width="1" />
<line x1="298.5" y1="558.5" x2="298.5" y2="619.5" stroke="#ffffff" stroke-width="1" />
<line x1="496.5" y1="399.5" x2="496.5" y2="619.5" stroke="#ffffff" stroke-width="1" />
<path d="M265.5,460.5 H429.5 A9,9 0 0 1 438.5,469.5 V549.5 A9,9 0 0 1 429.5,558.5 H265.5" fill="none" stroke="#fff"/>
<polyline points="344.5,460.5 344.5,448.5 348.5,448.5 348.5,426.5 380.5,426.5 380.5,448.5 384.5,448.5 384.5,460.5" stroke="#ffffff" stroke-width="1" fill="none"/>
<line x1="348.2" y1="448.5" x2="380.8" y2="448.5" stroke="#ffffff" stroke-width="1" />
<polyline points="167.5,490.5 194.8,490.5 201.99,491.93 208.09,496.01 212.17,502.11 213.6,509.3 212.17,516.49 208.09,522.59 201.99,526.67 194.8,528.5 167.5,528.5" stroke="#ffffff" stroke-width="1" fill="none"/>
<polyline points="167.5,499.3 194.8,499.35 198.61,500.11 201.84,502.26 203.99,505.49 204.75,509.3 203.99,513.11 201.84,516.34 198.61,518.49 194.8,519.25 167.5,519.2" stroke="#ffffff" stroke-width="1" fill="none"/>
<polyline points="562.6,490.5 534.6,490.5 527.37,491.84 521.24,495.94 517.14,502.07 515.7,509.3 517.14,516.53 521.24,522.66 527.37,526.76 534.6,528.5 562.6,528.5" stroke="#ffffff" stroke-width="1" fill="none"/>
<polyline points="562.6,499.5 534.6,499.5 530.85,500.35 527.67,502.47 525.55,505.65 524.8,509.4 525.55,513.15 527.67,516.33 530.85,518.45 534.6,519.5 562.6,519.5" stroke="#ffffff" stroke-width="1" fill="none"/>
<line x1="194.5" y1="487.8" x2="194.5" y2="529.5" stroke="#b02222" stroke-width="1" />
<line x1="534.5" y1="487.8" x2="534.5" y2="530" stroke="#b02222" stroke-width="1" />
<line x1="159" y1="509.5" x2="563" y2="509.5" stroke="#b02222" stroke-width="1.2" stroke-dasharray="36,3,3,3"/>
<line x1="364.5" y1="395" x2="364.5" y2="575.5" stroke="#b02222" stroke-width="1.2" stroke-dasharray="36,3,3,3"/>
<circle cx="337.3" cy="482" r="13.8" stroke="#ffffff" stroke-width="1" fill="none" shape-rendering="crispEdges" />
<circle cx="337.3" cy="482" r="11.3" stroke="#ffffff" stroke-width="1" fill="none" shape-rendering="crispEdges" />
<circle cx="337.3" cy="482" r="6.5" stroke="#ffffff" stroke-width="1" fill="none" shape-rendering="crispEdges" />
<line x1="321.8" y1="482.5" x2="352.8" y2="482.5" stroke="#b02222" stroke-width="1" />
<line x1="337.5" y1="466.5" x2="337.5" y2="497.5" stroke="#b02222" stroke-width="1" />
<circle cx="392.3" cy="482" r="13.8" stroke="#ffffff" stroke-width="1" fill="none" shape-rendering="crispEdges" />
<circle cx="392.3" cy="482" r="11.3" stroke="#ffffff" stroke-width="1" fill="none" shape-rendering="crispEdges" />
<circle cx="392.3" cy="482" r="6.5" stroke="#ffffff" stroke-width="1" fill="none" shape-rendering="crispEdges" />
<line x1="376.8" y1="482.5" x2="407.8" y2="482.5" stroke="#b02222" stroke-width="1" />
<line x1="392.5" y1="466.5" x2="392.5" y2="497.5" stroke="#b02222" stroke-width="1" />
<circle cx="318" cy="482" r="7.5" stroke="#ffffff" stroke-width="1" fill="none" shape-rendering="crispEdges" />
<line x1="309.5" y1="482.5" x2="326.5" y2="482.5" stroke="#b02222" stroke-width="1" />
<line x1="318.5" y1="473.5" x2="318.5" y2="490.5" stroke="#b02222" stroke-width="1" />
<circle cx="324.5" cy="482" r="1" fill="#e040e0"/>
<circle cx="410.9" cy="482" r="7.5" stroke="#ffffff" stroke-width="1" fill="none" shape-rendering="crispEdges" />
<line x1="402.4" y1="482.5" x2="419.4" y2="482.5" stroke="#b02222" stroke-width="1" />
<line x1="410.5" y1="473.5" x2="410.5" y2="490.5" stroke="#b02222" stroke-width="1" />
<circle cx="404.4" cy="482" r="1" fill="#e040e0"/>
<circle cx="337.3" cy="536.3" r="13.8" stroke="#ffffff" stroke-width="1" fill="none" shape-rendering="crispEdges" />
<circle cx="337.3" cy="536.3" r="11.3" stroke="#ffffff" stroke-width="1" fill="none" shape-rendering="crispEdges" />
<circle cx="337.3" cy="536.3" r="6.5" stroke="#ffffff" stroke-width="1" fill="none" shape-rendering="crispEdges" />
<line x1="321.8" y1="536.5" x2="352.8" y2="536.5" stroke="#b02222" stroke-width="1" />
<line x1="337.5" y1="520.8" x2="337.5" y2="551.8" stroke="#b02222" stroke-width="1" />
<circle cx="392.3" cy="536.3" r="13.8" stroke="#ffffff" stroke-width="1" fill="none" shape-rendering="crispEdges" />
<circle cx="392.3" cy="536.3" r="11.3" stroke="#ffffff" stroke-width="1" fill="none" shape-rendering="crispEdges" />
<circle cx="392.3" cy="536.3" r="6.5" stroke="#ffffff" stroke-width="1" fill="none" shape-rendering="crispEdges" />
<line x1="376.8" y1="536.5" x2="407.8" y2="536.5" stroke="#b02222" stroke-width="1" />
<line x1="392.5" y1="520.8" x2="392.5" y2="551.8" stroke="#b02222" stroke-width="1" />
<circle cx="318" cy="536.3" r="7.5" stroke="#ffffff" stroke-width="1" fill="none" shape-rendering="crispEdges" />
<line x1="309.5" y1="536.5" x2="326.5" y2="536.5" stroke="#b02222" stroke-width="1" />
<line x1="318.5" y1="527.8" x2="318.5" y2="544.8" stroke="#b02222" stroke-width="1" />
<circle cx="324.5" cy="536.3" r="1" fill="#e040e0"/>
<circle cx="410.9" cy="536.3" r="7.5" stroke="#ffffff" stroke-width="1" fill="none" shape-rendering="crispEdges" />
<line x1="402.4" y1="536.5" x2="419.4" y2="536.5" stroke="#b02222" stroke-width="1" />
<line x1="410.5" y1="527.8" x2="410.5" y2="544.8" stroke="#b02222" stroke-width="1" />
<circle cx="404.4" cy="536.3" r="1" fill="#e040e0"/>
<circle cx="275.6" cy="482" r="6.3" stroke="#ffffff" stroke-width="1" fill="none" shape-rendering="crispEdges" />
<circle cx="275.6" cy="482" r="4.5" stroke="#ffffff" stroke-width="1" fill="none" shape-rendering="crispEdges" />
<circle cx="275.6" cy="482" r="2.6" stroke="#ffffff" stroke-width="1" fill="none" shape-rendering="crispEdges" />
<line x1="267.6" y1="482.5" x2="283.6" y2="482.5" stroke="#b02222" stroke-width="1" />
<line x1="275.5" y1="474" x2="275.5" y2="490" stroke="#b02222" stroke-width="1" />
<circle cx="288.6" cy="482" r="2.6" stroke="#ffffff" stroke-width="1" fill="none" shape-rendering="crispEdges" />
<line x1="284.6" y1="482.5" x2="292.6" y2="482.5" stroke="#b02222" stroke-width="1" />
<line x1="288.5" y1="478" x2="288.5" y2="486" stroke="#b02222" stroke-width="1" />
<circle cx="275.6" cy="536.3" r="2.4" stroke="#ffffff" stroke-width="1" fill="none" shape-rendering="crispEdges" />
<line x1="271.6" y1="536.5" x2="279.6" y2="536.5" stroke="#b02222" stroke-width="1" />
<line x1="275.5" y1="532.3" x2="275.5" y2="540.3" stroke="#b02222" stroke-width="1" />
<circle cx="289.2" cy="536.3" r="6.3" stroke="#ffffff" stroke-width="1" fill="none" shape-rendering="crispEdges" stroke-dasharray="2,1"/>
<circle cx="289.2" cy="536.3" r="4" stroke="#ffffff" stroke-width="1" fill="none" shape-rendering="crispEdges" />
<line x1="281.2" y1="536.5" x2="297.2" y2="536.5" stroke="#b02222" stroke-width="1" />
<line x1="289.5" y1="528.3" x2="289.5" y2="544.3" stroke="#b02222" stroke-width="1" />
<circle cx="364.5" cy="509.3" r="13.3" stroke="#ffffff" stroke-width="1" fill="none" shape-rendering="crispEdges" />
<circle cx="364.5" cy="509.3" r="11.2" stroke="#ffffff" stroke-width="1" fill="none" shape-rendering="crispEdges" />
<circle cx="364.5" cy="509.3" r="5.2" stroke="#ffffff" stroke-width="1" fill="none" shape-rendering="crispEdges" />
<text x="140.5" y="510" font-family="Liberation Sans" font-size="7.5" fill="#3cf03c" text-anchor="middle" font-weight="bold" textLength="3.4" lengthAdjust="spacingAndGlyphs">A</text>
<polyline points="144.5,504.5 144.5,509.5 151,509.5" stroke="#3cf03c" stroke-width="1" fill="none"/>
<polyline points="583.2,509.5 589.5,509.5" stroke="#3cf03c" stroke-width="1" fill="none"/>
<text x="0" y="0" font-family="Liberation Sans" font-size="7.5" fill="#3cf03c" text-anchor="middle" font-weight="bold" textLength="3.6" lengthAdjust="spacingAndGlyphs" transform="translate(591,504) rotate(180)">A</text>
<path d="M360,384 h3.2 v1.2 h-1 v2.6 h1 v1.2 h-3.2 v-1.2 h1 v-2.6 h-1 z" fill="#3cf03c"/>
<polyline points="364.5,391.5 364.5,385.5 370,385.5" stroke="#3cf03c" stroke-width="1" fill="none"/>
<text x="361.4" y="627.2" font-family="Liberation Sans" font-size="7" fill="#3cf03c" text-anchor="middle" font-weight="bold" textLength="3.2" lengthAdjust="spacingAndGlyphs">B</text>
<polyline points="364.5,622 364.5,627.5 370,627.5" stroke="#3cf03c" stroke-width="1" fill="none"/>
<rect x="736.25" y="372.20" width="3.07" height="7.60" fill="#44f044"/>
<rect x="736.50" y="374.48" width="0.74" height="1.22" fill="#000"/>
<rect x="737.45" y="372.66" width="0.74" height="1.22" fill="#000"/>
<rect x="738.40" y="374.48" width="0.74" height="1.22" fill="#000"/>
<rect x="736.50" y="372.66" width="0.74" height="1.22" fill="#000"/>
<rect x="739.92" y="372.20" width="3.07" height="7.60" fill="#44f044"/>
<rect x="742.08" y="376.30" width="0.74" height="1.22" fill="#000"/>
<rect x="741.12" y="376.30" width="0.74" height="1.22" fill="#000"/>
<rect x="740.17" y="376.30" width="0.74" height="1.22" fill="#000"/>
<rect x="740.17" y="374.48" width="0.74" height="1.22" fill="#000"/>
<rect x="743.60" y="372.20" width="3.07" height="7.60" fill="#44f044"/>
<rect x="743.85" y="372.66" width="0.74" height="1.22" fill="#000"/>
<rect x="744.80" y="378.13" width="0.74" height="1.22" fill="#000"/>
<rect x="743.85" y="378.13" width="0.74" height="1.22" fill="#000"/>
<rect x="743.85" y="374.48" width="0.74" height="1.22" fill="#000"/>
<rect x="747.27" y="372.20" width="3.07" height="7.60" fill="#44f044"/>
<rect x="749.43" y="376.30" width="0.74" height="1.22" fill="#000"/>
<rect x="747.52" y="372.66" width="0.74" height="1.22" fill="#000"/>
<rect x="748.47" y="372.66" width="0.74" height="1.22" fill="#000"/>
<rect x="747.52" y="376.30" width="0.74" height="1.22" fill="#000"/>
<text x="672" y="397" font-family="Liberation Sans" font-size="8.6" fill="#44f044" text-anchor="start" font-weight="bold" textLength="2.8" lengthAdjust="spacingAndGlyphs">1</text>
<rect x="676.35" y="390.20" width="3.90" height="6.80" fill="#44f044"/>
<rect x="677.87" y="395.50" width="0.94" height="1.09" fill="#000"/>
<rect x="677.87" y="393.87" width="0.94" height="1.09" fill="#000"/>
<rect x="679.08" y="390.61" width="0.94" height="1.09" fill="#000"/>
<rect x="676.66" y="392.24" width="0.94" height="1.09" fill="#000"/>
<rect x="680.85" y="390.20" width="3.90" height="6.80" fill="#44f044"/>
<rect x="683.58" y="390.61" width="0.94" height="1.09" fill="#000"/>
<rect x="682.37" y="395.50" width="0.94" height="1.09" fill="#000"/>
<rect x="683.58" y="395.50" width="0.94" height="1.09" fill="#000"/>
<rect x="683.58" y="392.24" width="0.94" height="1.09" fill="#000"/>
<rect x="685.35" y="390.20" width="3.90" height="6.80" fill="#44f044"/>
<rect x="686.87" y="390.61" width="0.94" height="1.09" fill="#000"/>
<rect x="685.66" y="393.87" width="0.94" height="1.09" fill="#000"/>
<rect x="688.08" y="390.61" width="0.94" height="1.09" fill="#000"/>
<rect x="685.66" y="390.61" width="0.94" height="1.09" fill="#000"/>
<rect x="689.85" y="390.20" width="3.90" height="6.80" fill="#44f044"/>
<rect x="692.58" y="390.61" width="0.94" height="1.09" fill="#000"/>
<rect x="692.58" y="392.24" width="0.94" height="1.09" fill="#000"/>
<rect x="691.37" y="392.24" width="0.94" height="1.09" fill="#000"/>
<rect x="692.58" y="395.50" width="0.94" height="1.09" fill="#000"/>
<rect x="694.35" y="390.20" width="3.90" height="6.80" fill="#44f044"/>
<rect x="697.08" y="393.87" width="0.94" height="1.09" fill="#000"/>
<rect x="695.87" y="392.24" width="0.94" height="1.09" fill="#000"/>
<rect x="695.87" y="390.61" width="0.94" height="1.09" fill="#000"/>
<rect x="694.66" y="390.61" width="0.94" height="1.09" fill="#000"/>
<rect x="698.85" y="390.20" width="3.90" height="6.80" fill="#44f044"/>
<rect x="701.58" y="395.50" width="0.94" height="1.09" fill="#000"/>
<rect x="699.16" y="393.87" width="0.94" height="1.09" fill="#000"/>
<rect x="699.16" y="390.61" width="0.94" height="1.09" fill="#000"/>
<rect x="700.37" y="390.61" width="0.94" height="1.09" fill="#000"/>
<rect x="704.55" y="390.20" width="4.27" height="6.80" fill="#44f044"/>
<rect x="707.54" y="390.61" width="1.02" height="1.09" fill="#000"/>
<rect x="704.89" y="390.61" width="1.02" height="1.09" fill="#000"/>
<rect x="706.21" y="392.24" width="1.02" height="1.09" fill="#000"/>
<rect x="704.89" y="393.87" width="1.02" height="1.09" fill="#000"/>
<rect x="709.42" y="390.20" width="4.27" height="6.80" fill="#44f044"/>
<rect x="709.76" y="395.50" width="1.02" height="1.09" fill="#000"/>
<rect x="712.40" y="390.61" width="1.02" height="1.09" fill="#000"/>
<rect x="712.40" y="392.24" width="1.02" height="1.09" fill="#000"/>
<rect x="712.40" y="393.87" width="1.02" height="1.09" fill="#000"/>
<rect x="714.28" y="390.20" width="4.27" height="6.80" fill="#44f044"/>
<rect x="717.27" y="392.24" width="1.02" height="1.09" fill="#000"/>
<rect x="714.62" y="393.87" width="1.02" height="1.09" fill="#000"/>
<rect x="714.62" y="390.61" width="1.02" height="1.09" fill="#000"/>
<rect x="715.95" y="392.24" width="1.02" height="1.09" fill="#000"/>
<rect x="719.6" y="395.6" width="1.2" height="1.4" fill="#44f044"/>
<rect x="720.95" y="390.20" width="3.50" height="6.80" fill="#44f044"/>
<rect x="721.23" y="395.50" width="0.84" height="1.09" fill="#000"/>
<rect x="721.23" y="393.87" width="0.84" height="1.09" fill="#000"/>
<rect x="722.31" y="390.61" width="0.84" height="1.09" fill="#000"/>
<rect x="721.23" y="390.61" width="0.84" height="1.09" fill="#000"/>
<rect x="725.05" y="390.20" width="3.50" height="6.80" fill="#44f044"/>
<rect x="726.41" y="392.24" width="0.84" height="1.09" fill="#000"/>
<rect x="727.50" y="390.61" width="0.84" height="1.09" fill="#000"/>
<rect x="725.33" y="392.24" width="0.84" height="1.09" fill="#000"/>
<rect x="725.33" y="395.50" width="0.84" height="1.09" fill="#000"/>
<rect x="731.5" y="395.6" width="1.2" height="1.4" fill="#44f044"/>
<rect x="734.45" y="390.20" width="3.74" height="6.80" fill="#44f044"/>
<rect x="737.07" y="392.24" width="0.90" height="1.09" fill="#000"/>
<rect x="734.75" y="393.87" width="0.90" height="1.09" fill="#000"/>
<rect x="734.75" y="395.50" width="0.90" height="1.09" fill="#000"/>
<rect x="734.75" y="390.61" width="0.90" height="1.09" fill="#000"/>
<rect x="738.79" y="390.20" width="3.74" height="6.80" fill="#44f044"/>
<rect x="739.09" y="393.87" width="0.90" height="1.09" fill="#000"/>
<rect x="739.09" y="392.24" width="0.90" height="1.09" fill="#000"/>
<rect x="740.25" y="393.87" width="0.90" height="1.09" fill="#000"/>
<rect x="739.09" y="390.61" width="0.90" height="1.09" fill="#000"/>
<rect x="743.13" y="390.20" width="3.74" height="6.80" fill="#44f044"/>
<rect x="744.59" y="395.50" width="0.90" height="1.09" fill="#000"/>
<rect x="745.75" y="390.61" width="0.90" height="1.09" fill="#000"/>
<rect x="745.75" y="392.24" width="0.90" height="1.09" fill="#000"/>
<rect x="743.43" y="393.87" width="0.90" height="1.09" fill="#000"/>
<rect x="747.47" y="390.20" width="3.74" height="6.80" fill="#44f044"/>
<rect x="748.93" y="395.50" width="0.90" height="1.09" fill="#000"/>
<rect x="747.77" y="395.50" width="0.90" height="1.09" fill="#000"/>
<rect x="750.09" y="393.87" width="0.90" height="1.09" fill="#000"/>
<rect x="748.93" y="392.24" width="0.90" height="1.09" fill="#000"/>
<rect x="751.81" y="390.20" width="3.74" height="6.80" fill="#44f044"/>
<rect x="753.27" y="393.87" width="0.90" height="1.09" fill="#000"/>
<rect x="754.43" y="393.87" width="0.90" height="1.09" fill="#000"/>
<rect x="752.11" y="393.87" width="0.90" height="1.09" fill="#000"/>
<rect x="752.11" y="395.50" width="0.90" height="1.09" fill="#000"/>
<rect x="672.15" y="400.40" width="3.86" height="6.40" fill="#44f044"/>
<rect x="674.85" y="405.39" width="0.93" height="1.02" fill="#000"/>
<rect x="673.65" y="403.86" width="0.93" height="1.02" fill="#000"/>
<rect x="674.85" y="400.78" width="0.93" height="1.02" fill="#000"/>
<rect x="672.46" y="402.32" width="0.93" height="1.02" fill="#000"/>
<rect x="676.61" y="400.40" width="3.86" height="6.40" fill="#44f044"/>
<rect x="679.31" y="405.39" width="0.93" height="1.02" fill="#000"/>
<rect x="676.92" y="405.39" width="0.93" height="1.02" fill="#000"/>
<rect x="676.92" y="400.78" width="0.93" height="1.02" fill="#000"/>
<rect x="676.92" y="403.86" width="0.93" height="1.02" fill="#000"/>
<rect x="681.06" y="400.40" width="3.86" height="6.40" fill="#44f044"/>
<rect x="681.37" y="403.86" width="0.93" height="1.02" fill="#000"/>
<rect x="683.76" y="402.32" width="0.93" height="1.02" fill="#000"/>
<rect x="682.57" y="402.32" width="0.93" height="1.02" fill="#000"/>
<rect x="682.57" y="400.78" width="0.93" height="1.02" fill="#000"/>
<rect x="685.52" y="400.40" width="3.86" height="6.40" fill="#44f044"/>
<rect x="688.22" y="405.39" width="0.93" height="1.02" fill="#000"/>
<rect x="685.83" y="403.86" width="0.93" height="1.02" fill="#000"/>
<rect x="687.03" y="402.32" width="0.93" height="1.02" fill="#000"/>
<rect x="688.22" y="400.78" width="0.93" height="1.02" fill="#000"/>
<rect x="689.98" y="400.40" width="3.86" height="6.40" fill="#44f044"/>
<rect x="692.68" y="403.86" width="0.93" height="1.02" fill="#000"/>
<rect x="692.68" y="402.32" width="0.93" height="1.02" fill="#000"/>
<rect x="691.48" y="400.78" width="0.93" height="1.02" fill="#000"/>
<rect x="691.48" y="402.32" width="0.93" height="1.02" fill="#000"/>
<rect x="694.44" y="400.40" width="3.86" height="6.40" fill="#44f044"/>
<rect x="697.14" y="405.39" width="0.93" height="1.02" fill="#000"/>
<rect x="694.74" y="405.39" width="0.93" height="1.02" fill="#000"/>
<rect x="694.74" y="400.78" width="0.93" height="1.02" fill="#000"/>
<rect x="695.94" y="402.32" width="0.93" height="1.02" fill="#000"/>
<rect x="698.89" y="400.40" width="3.86" height="6.40" fill="#44f044"/>
<rect x="699.20" y="402.32" width="0.93" height="1.02" fill="#000"/>
<rect x="701.59" y="403.86" width="0.93" height="1.02" fill="#000"/>
<rect x="699.20" y="403.86" width="0.93" height="1.02" fill="#000"/>
<rect x="699.20" y="400.78" width="0.93" height="1.02" fill="#000"/>
<text x="672" y="418.3" font-family="Liberation Sans" font-size="8.6" fill="#44f044" text-anchor="start" font-weight="bold" textLength="2.8" lengthAdjust="spacingAndGlyphs">2</text>
<rect x="676.95" y="411.80" width="3.65" height="6.50" fill="#44f044"/>
<rect x="677.24" y="412.19" width="0.88" height="1.04" fill="#000"/>
<rect x="679.50" y="415.31" width="0.88" height="1.04" fill="#000"/>
<rect x="677.24" y="415.31" width="0.88" height="1.04" fill="#000"/>
<rect x="679.50" y="413.75" width="0.88" height="1.04" fill="#000"/>
<rect x="681.20" y="411.80" width="3.65" height="6.50" fill="#44f044"/>
<rect x="681.49" y="412.19" width="0.88" height="1.04" fill="#000"/>
<rect x="683.75" y="412.19" width="0.88" height="1.04" fill="#000"/>
<rect x="683.75" y="416.87" width="0.88" height="1.04" fill="#000"/>
<rect x="682.62" y="413.75" width="0.88" height="1.04" fill="#000"/>
<rect x="685.45" y="411.80" width="3.65" height="6.50" fill="#44f044"/>
<rect x="688.00" y="415.31" width="0.88" height="1.04" fill="#000"/>
<rect x="685.74" y="412.19" width="0.88" height="1.04" fill="#000"/>
<rect x="685.74" y="415.31" width="0.88" height="1.04" fill="#000"/>
<rect x="688.00" y="412.19" width="0.88" height="1.04" fill="#000"/>
<rect x="689.70" y="411.80" width="3.65" height="6.50" fill="#44f044"/>
<rect x="692.25" y="412.19" width="0.88" height="1.04" fill="#000"/>
<rect x="691.12" y="412.19" width="0.88" height="1.04" fill="#000"/>
<rect x="691.12" y="415.31" width="0.88" height="1.04" fill="#000"/>
<rect x="689.99" y="413.75" width="0.88" height="1.04" fill="#000"/>
<rect x="694.6" y="416.90000000000003" width="1.2" height="1.4" fill="#44f044"/>
<rect x="696.25" y="411.80" width="3.52" height="6.50" fill="#44f044"/>
<rect x="697.62" y="416.87" width="0.84" height="1.04" fill="#000"/>
<rect x="696.53" y="412.19" width="0.84" height="1.04" fill="#000"/>
<rect x="697.62" y="415.31" width="0.84" height="1.04" fill="#000"/>
<rect x="696.53" y="416.87" width="0.84" height="1.04" fill="#000"/>
<rect x="700.37" y="411.80" width="3.52" height="6.50" fill="#44f044"/>
<rect x="701.74" y="415.31" width="0.84" height="1.04" fill="#000"/>
<rect x="702.83" y="416.87" width="0.84" height="1.04" fill="#000"/>
<rect x="702.83" y="415.31" width="0.84" height="1.04" fill="#000"/>
<rect x="701.74" y="412.19" width="0.84" height="1.04" fill="#000"/>
<rect x="704.48" y="411.80" width="3.52" height="6.50" fill="#44f044"/>
<rect x="704.76" y="413.75" width="0.84" height="1.04" fill="#000"/>
<rect x="704.76" y="416.87" width="0.84" height="1.04" fill="#000"/>
<rect x="704.76" y="412.19" width="0.84" height="1.04" fill="#000"/>
<rect x="705.85" y="412.19" width="0.84" height="1.04" fill="#000"/>
<rect x="708.60" y="411.80" width="3.52" height="6.50" fill="#44f044"/>
<rect x="711.06" y="412.19" width="0.84" height="1.04" fill="#000"/>
<rect x="708.88" y="413.75" width="0.84" height="1.04" fill="#000"/>
<rect x="709.97" y="412.19" width="0.84" height="1.04" fill="#000"/>
<rect x="709.97" y="415.31" width="0.84" height="1.04" fill="#000"/>
<rect x="712.72" y="411.80" width="3.52" height="6.50" fill="#44f044"/>
<rect x="713.00" y="416.87" width="0.84" height="1.04" fill="#000"/>
<rect x="713.00" y="412.19" width="0.84" height="1.04" fill="#000"/>
<rect x="715.18" y="413.75" width="0.84" height="1.04" fill="#000"/>
<rect x="714.09" y="412.19" width="0.84" height="1.04" fill="#000"/>
<rect x="716.83" y="411.80" width="3.52" height="6.50" fill="#44f044"/>
<rect x="718.20" y="412.19" width="0.84" height="1.04" fill="#000"/>
<rect x="718.20" y="415.31" width="0.84" height="1.04" fill="#000"/>
<rect x="719.29" y="415.31" width="0.84" height="1.04" fill="#000"/>
<rect x="719.29" y="416.87" width="0.84" height="1.04" fill="#000"/>
<rect x="721" y="416.90000000000003" width="1.2" height="1.4" fill="#44f044"/>
<rect x="722.45" y="411.80" width="3.84" height="6.50" fill="#44f044"/>
<rect x="725.14" y="416.87" width="0.92" height="1.04" fill="#000"/>
<rect x="725.14" y="413.75" width="0.92" height="1.04" fill="#000"/>
<rect x="722.76" y="413.75" width="0.92" height="1.04" fill="#000"/>
<rect x="723.95" y="412.19" width="0.92" height="1.04" fill="#000"/>
<rect x="726.89" y="411.80" width="3.84" height="6.50" fill="#44f044"/>
<rect x="727.19" y="415.31" width="0.92" height="1.04" fill="#000"/>
<rect x="729.57" y="415.31" width="0.92" height="1.04" fill="#000"/>
<rect x="729.57" y="412.19" width="0.92" height="1.04" fill="#000"/>
<rect x="727.19" y="412.19" width="0.92" height="1.04" fill="#000"/>
<rect x="731.32" y="411.80" width="3.84" height="6.50" fill="#44f044"/>
<rect x="731.63" y="412.19" width="0.92" height="1.04" fill="#000"/>
<rect x="731.63" y="416.87" width="0.92" height="1.04" fill="#000"/>
<rect x="731.63" y="413.75" width="0.92" height="1.04" fill="#000"/>
<rect x="734.01" y="412.19" width="0.92" height="1.04" fill="#000"/>
<rect x="735.76" y="411.80" width="3.84" height="6.50" fill="#44f044"/>
<rect x="738.45" y="412.19" width="0.92" height="1.04" fill="#000"/>
<rect x="736.07" y="415.31" width="0.92" height="1.04" fill="#000"/>
<rect x="738.45" y="413.75" width="0.92" height="1.04" fill="#000"/>
<rect x="737.26" y="412.19" width="0.92" height="1.04" fill="#000"/>
<rect x="740.20" y="411.80" width="3.84" height="6.50" fill="#44f044"/>
<rect x="740.51" y="415.31" width="0.92" height="1.04" fill="#000"/>
<rect x="741.70" y="416.87" width="0.92" height="1.04" fill="#000"/>
<rect x="740.51" y="412.19" width="0.92" height="1.04" fill="#000"/>
<rect x="741.70" y="412.19" width="0.92" height="1.04" fill="#000"/>
<rect x="744.64" y="411.80" width="3.84" height="6.50" fill="#44f044"/>
<rect x="747.32" y="412.19" width="0.92" height="1.04" fill="#000"/>
<rect x="747.32" y="416.87" width="0.92" height="1.04" fill="#000"/>
<rect x="746.13" y="412.19" width="0.92" height="1.04" fill="#000"/>
<rect x="746.13" y="413.75" width="0.92" height="1.04" fill="#000"/>
<rect x="749.07" y="411.80" width="3.84" height="6.50" fill="#44f044"/>
<rect x="751.76" y="416.87" width="0.92" height="1.04" fill="#000"/>
<rect x="749.38" y="416.87" width="0.92" height="1.04" fill="#000"/>
<rect x="749.38" y="413.75" width="0.92" height="1.04" fill="#000"/>
<rect x="751.76" y="415.31" width="0.92" height="1.04" fill="#000"/>
<rect x="753.51" y="411.80" width="3.84" height="6.50" fill="#44f044"/>
<rect x="756.20" y="412.19" width="0.92" height="1.04" fill="#000"/>
<rect x="755.01" y="416.87" width="0.92" height="1.04" fill="#000"/>
<rect x="755.01" y="413.75" width="0.92" height="1.04" fill="#000"/>
<rect x="753.82" y="413.75" width="0.92" height="1.04" fill="#000"/>
<rect x="672.15" y="422.20" width="4.30" height="6.30" fill="#44f044"/>
<rect x="672.49" y="425.60" width="1.03" height="1.01" fill="#000"/>
<rect x="675.16" y="425.60" width="1.03" height="1.01" fill="#000"/>
<rect x="672.49" y="422.58" width="1.03" height="1.01" fill="#000"/>
<rect x="672.49" y="424.09" width="1.03" height="1.01" fill="#000"/>
<rect x="677.05" y="422.20" width="4.30" height="6.30" fill="#44f044"/>
<rect x="677.39" y="422.58" width="1.03" height="1.01" fill="#000"/>
<rect x="680.06" y="422.58" width="1.03" height="1.01" fill="#000"/>
<rect x="678.73" y="427.11" width="1.03" height="1.01" fill="#000"/>
<rect x="677.39" y="424.09" width="1.03" height="1.01" fill="#000"/>
<rect x="681.95" y="422.20" width="4.30" height="6.30" fill="#44f044"/>
<rect x="682.29" y="424.09" width="1.03" height="1.01" fill="#000"/>
<rect x="683.63" y="422.58" width="1.03" height="1.01" fill="#000"/>
<rect x="683.63" y="427.11" width="1.03" height="1.01" fill="#000"/>
<rect x="683.63" y="425.60" width="1.03" height="1.01" fill="#000"/>
<text x="672" y="439" font-family="Liberation Sans" font-size="8.6" fill="#44f044" text-anchor="start" font-weight="bold" textLength="2.8" lengthAdjust="spacingAndGlyphs">3</text>
<rect x="676.35" y="432.70" width="3.67" height="6.30" fill="#44f044"/>
<rect x="678.92" y="434.59" width="0.88" height="1.01" fill="#000"/>
<rect x="678.92" y="433.08" width="0.88" height="1.01" fill="#000"/>
<rect x="676.64" y="433.08" width="0.88" height="1.01" fill="#000"/>
<rect x="678.92" y="437.61" width="0.88" height="1.01" fill="#000"/>
<rect x="680.62" y="432.70" width="3.67" height="6.30" fill="#44f044"/>
<rect x="680.92" y="434.59" width="0.88" height="1.01" fill="#000"/>
<rect x="680.92" y="436.10" width="0.88" height="1.01" fill="#000"/>
<rect x="682.05" y="436.10" width="0.88" height="1.01" fill="#000"/>
<rect x="682.05" y="433.08" width="0.88" height="1.01" fill="#000"/>
<rect x="684.89" y="432.70" width="3.67" height="6.30" fill="#44f044"/>
<rect x="687.46" y="436.10" width="0.88" height="1.01" fill="#000"/>
<rect x="685.19" y="433.08" width="0.88" height="1.01" fill="#000"/>
<rect x="685.19" y="434.59" width="0.88" height="1.01" fill="#000"/>
<rect x="687.46" y="437.61" width="0.88" height="1.01" fill="#000"/>
<rect x="689.16" y="432.70" width="3.67" height="6.30" fill="#44f044"/>
<rect x="689.46" y="434.59" width="0.88" height="1.01" fill="#000"/>
<rect x="689.46" y="437.61" width="0.88" height="1.01" fill="#000"/>
<rect x="691.73" y="437.61" width="0.88" height="1.01" fill="#000"/>
<rect x="690.60" y="436.10" width="0.88" height="1.01" fill="#000"/>
<rect x="693.44" y="432.70" width="3.67" height="6.30" fill="#44f044"/>
<rect x="696.01" y="437.61" width="0.88" height="1.01" fill="#000"/>
<rect x="693.73" y="433.08" width="0.88" height="1.01" fill="#000"/>
<rect x="694.87" y="433.08" width="0.88" height="1.01" fill="#000"/>
<rect x="693.73" y="436.10" width="0.88" height="1.01" fill="#000"/>
<rect x="697.71" y="432.70" width="3.67" height="6.30" fill="#44f044"/>
<rect x="699.14" y="433.08" width="0.88" height="1.01" fill="#000"/>
<rect x="699.14" y="434.59" width="0.88" height="1.01" fill="#000"/>
<rect x="698.00" y="437.61" width="0.88" height="1.01" fill="#000"/>
<rect x="698.00" y="434.59" width="0.88" height="1.01" fill="#000"/>
<rect x="701.98" y="432.70" width="3.67" height="6.30" fill="#44f044"/>
<rect x="704.55" y="433.08" width="0.88" height="1.01" fill="#000"/>
<rect x="702.27" y="436.10" width="0.88" height="1.01" fill="#000"/>
<rect x="704.55" y="436.10" width="0.88" height="1.01" fill="#000"/>
<rect x="703.41" y="433.08" width="0.88" height="1.01" fill="#000"/>
<rect x="707.5" y="437.6" width="1.2" height="1.4" fill="#44f044"/>
<rect x="709.15" y="432.70" width="1.40" height="6.30" fill="#44f044"/>
<rect x="709.26" y="437.61" width="0.34" height="1.01" fill="#000"/>
<rect x="710.13" y="436.10" width="0.34" height="1.01" fill="#000"/>
<rect x="710.13" y="433.08" width="0.34" height="1.01" fill="#000"/>
<rect x="710.13" y="434.59" width="0.34" height="1.01" fill="#000"/>
<rect x="711.6" y="437.6" width="1.2" height="1.4" fill="#44f044"/>
<rect x="713.35" y="432.70" width="3.50" height="6.30" fill="#44f044"/>
<rect x="715.80" y="437.61" width="0.84" height="1.01" fill="#000"/>
<rect x="714.72" y="437.61" width="0.84" height="1.01" fill="#000"/>
<rect x="715.80" y="433.08" width="0.84" height="1.01" fill="#000"/>
<rect x="714.72" y="436.10" width="0.84" height="1.01" fill="#000"/>
<rect x="717.45" y="432.70" width="3.50" height="6.30" fill="#44f044"/>
<rect x="718.82" y="434.59" width="0.84" height="1.01" fill="#000"/>
<rect x="718.82" y="433.08" width="0.84" height="1.01" fill="#000"/>
<rect x="717.73" y="433.08" width="0.84" height="1.01" fill="#000"/>
<rect x="719.90" y="436.10" width="0.84" height="1.01" fill="#000"/>
<rect x="721.55" y="432.70" width="3.50" height="6.30" fill="#44f044"/>
<rect x="724.00" y="433.08" width="0.84" height="1.01" fill="#000"/>
<rect x="722.92" y="434.59" width="0.84" height="1.01" fill="#000"/>
<rect x="721.83" y="437.61" width="0.84" height="1.01" fill="#000"/>
<rect x="721.83" y="433.08" width="0.84" height="1.01" fill="#000"/>
<rect x="725.65" y="432.70" width="3.50" height="6.30" fill="#44f044"/>
<rect x="728.10" y="437.61" width="0.84" height="1.01" fill="#000"/>
<rect x="727.01" y="437.61" width="0.84" height="1.01" fill="#000"/>
<rect x="725.93" y="433.08" width="0.84" height="1.01" fill="#000"/>
<rect x="728.10" y="436.10" width="0.84" height="1.01" fill="#000"/>
<line x1="717.7" y1="485.5" x2="914.5" y2="485.5" stroke="#ffffff" stroke-width="1" />
<line x1="717.7" y1="493.5" x2="914.5" y2="493.5" stroke="#ffffff" stroke-width="1" />
<line x1="717.7" y1="500.5" x2="914.5" y2="500.5" stroke="#ffffff" stroke-width="1" />
<line x1="717.7" y1="508.5" x2="914.5" y2="508.5" stroke="#ffffff" stroke-width="1" />
<line x1="717.7" y1="516.5" x2="914.5" y2="516.5" stroke="#ffffff" stroke-width="1" />
<line x1="717.7" y1="523.5" x2="914.5" y2="523.5" stroke="#ffffff" stroke-width="1" />
<line x1="717.7" y1="531.5" x2="914.5" y2="531.5" stroke="#ffffff" stroke-width="1" />
<line x1="717.7" y1="539.5" x2="914.5" y2="539.5" stroke="#ffffff" stroke-width="1" />
<line x1="717.7" y1="546.5" x2="914.5" y2="546.5" stroke="#ffffff" stroke-width="1" />
<line x1="717.7" y1="554.5" x2="914.5" y2="554.5" stroke="#ffffff" stroke-width="1" />
<line x1="717.7" y1="562.5" x2="914.5" y2="562.5" stroke="#ffffff" stroke-width="1" />
<line x1="717.7" y1="569.5" x2="914.5" y2="569.5" stroke="#ffffff" stroke-width="1" />
<line x1="717.7" y1="577.5" x2="914.5" y2="577.5" stroke="#ffffff" stroke-width="1" />
<line x1="717.5" y1="485.6" x2="717.5" y2="593.5" stroke="#ffffff" stroke-width="1" />
<line x1="725.5" y1="485.6" x2="725.5" y2="593.5" stroke="#ffffff" stroke-width="1" />
<line x1="769.5" y1="485.6" x2="769.5" y2="593.5" stroke="#ffffff" stroke-width="1" />
<line x1="818.5" y1="485.6" x2="818.5" y2="593.5" stroke="#ffffff" stroke-width="1" />
<line x1="826.5" y1="485.6" x2="826.5" y2="593.5" stroke="#ffffff" stroke-width="1" />
<line x1="868.5" y1="485.6" x2="868.5" y2="593.5" stroke="#ffffff" stroke-width="1" />
<line x1="892.5" y1="485.6" x2="892.5" y2="593.5" stroke="#ffffff" stroke-width="1" />
<line x1="879.5" y1="485.6" x2="879.5" y2="585.8" stroke="#ffffff" stroke-width="1" />
<line x1="868.5" y1="585.5" x2="892.3" y2="585.5" stroke="#ffffff" stroke-width="1" />
<line x1="717.7" y1="593.5" x2="914.5" y2="593.5" stroke="#ffffff" stroke-width="1" />
<text x="721.6" y="491.65999999999997" font-family="Liberation Sans" font-size="6.8" fill="#ffffff" text-anchor="middle" font-weight="bold" stroke="#fff" stroke-width="0.25" textLength="4.8" lengthAdjust="spacingAndGlyphs">12</text>
<rect x="775.15" y="487.20" width="2.25" height="4.66" fill="#fff"/>
<rect x="776.03" y="487.48" width="0.54" height="0.75" fill="#000"/>
<rect x="776.73" y="490.83" width="0.54" height="0.75" fill="#000"/>
<rect x="776.03" y="489.72" width="0.54" height="0.75" fill="#000"/>
<rect x="776.03" y="490.83" width="0.54" height="0.75" fill="#000"/>
<rect x="778.00" y="487.20" width="2.25" height="4.66" fill="#fff"/>
<rect x="778.88" y="490.83" width="0.54" height="0.75" fill="#000"/>
<rect x="778.88" y="487.48" width="0.54" height="0.75" fill="#000"/>
<rect x="778.18" y="487.48" width="0.54" height="0.75" fill="#000"/>
<rect x="779.58" y="488.60" width="0.54" height="0.75" fill="#000"/>
<text x="822.5" y="491.65999999999997" font-family="Liberation Sans" font-size="6.8" fill="#ffffff" text-anchor="middle" font-weight="bold" stroke="#fff" stroke-width="0.25" textLength="3.5" lengthAdjust="spacingAndGlyphs">1</text>
<text x="842" y="491.65999999999997" font-family="Liberation Sans" font-size="6.6" fill="#ffffff" text-anchor="start" font-weight="bold" stroke="#fff" stroke-width="0.25" textLength="4.5" lengthAdjust="spacingAndGlyphs">45</text>
<rect x="846.95" y="487.20" width="2.40" height="4.66" fill="#fff"/>
<rect x="848.63" y="489.72" width="0.58" height="0.75" fill="#000"/>
<rect x="847.14" y="487.48" width="0.58" height="0.75" fill="#000"/>
<rect x="847.14" y="490.83" width="0.58" height="0.75" fill="#000"/>
<rect x="847.89" y="487.48" width="0.58" height="0.75" fill="#000"/>
<text x="721.6" y="499.32" font-family="Liberation Sans" font-size="6.8" fill="#ffffff" text-anchor="middle" font-weight="bold" stroke="#fff" stroke-width="0.25" textLength="4.8" lengthAdjust="spacingAndGlyphs">11</text>
<text x="732" y="499.32" font-family="Liberation Sans" font-size="6.6" fill="#ffffff" text-anchor="start" font-weight="bold" stroke="#fff" stroke-width="0.25" textLength="36" lengthAdjust="spacingAndGlyphs">JB/T8043.3-1999</text>
<rect x="775.15" y="494.86" width="3.35" height="4.66" fill="#fff"/>
<rect x="775.42" y="495.14" width="0.80" height="0.75" fill="#000"/>
<rect x="777.50" y="496.26" width="0.80" height="0.75" fill="#000"/>
<rect x="775.42" y="497.38" width="0.80" height="0.75" fill="#000"/>
<rect x="777.50" y="497.38" width="0.80" height="0.75" fill="#000"/>
<rect x="779.10" y="494.86" width="3.35" height="4.66" fill="#fff"/>
<rect x="780.41" y="497.38" width="0.80" height="0.75" fill="#000"/>
<rect x="781.45" y="495.14" width="0.80" height="0.75" fill="#000"/>
<rect x="779.37" y="495.14" width="0.80" height="0.75" fill="#000"/>
<rect x="779.37" y="497.38" width="0.80" height="0.75" fill="#000"/>
<text x="822.5" y="499.32" font-family="Liberation Sans" font-size="6.8" fill="#ffffff" text-anchor="middle" font-weight="bold" stroke="#fff" stroke-width="0.25" textLength="3.5" lengthAdjust="spacingAndGlyphs">4</text>
<text x="842" y="499.32" font-family="Liberation Sans" font-size="6.6" fill="#ffffff" text-anchor="start" font-weight="bold" stroke="#fff" stroke-width="0.25" textLength="8.8" lengthAdjust="spacingAndGlyphs">T10A</text>
<text x="721.6" y="506.97999999999996" font-family="Liberation Sans" font-size="6.8" fill="#ffffff" text-anchor="middle" font-weight="bold" stroke="#fff" stroke-width="0.25" textLength="4.8" lengthAdjust="spacingAndGlyphs">10</text>
<text x="732" y="506.97999999999996" font-family="Liberation Sans" font-size="6.6" fill="#ffffff" text-anchor="start" font-weight="bold" stroke="#fff" stroke-width="0.25" textLength="36" lengthAdjust="spacingAndGlyphs">JB/T8043.3-1999</text>
<rect x="775.15" y="502.52" width="3.40" height="4.66" fill="#fff"/>
<rect x="776.48" y="506.15" width="0.82" height="0.75" fill="#000"/>
<rect x="776.48" y="502.80" width="0.82" height="0.75" fill="#000"/>
<rect x="775.42" y="506.15" width="0.82" height="0.75" fill="#000"/>
<rect x="775.42" y="503.92" width="0.82" height="0.75" fill="#000"/>
<rect x="779.15" y="502.52" width="3.40" height="4.66" fill="#fff"/>
<rect x="779.42" y="506.15" width="0.82" height="0.75" fill="#000"/>
<rect x="781.53" y="503.92" width="0.82" height="0.75" fill="#000"/>
<rect x="780.48" y="506.15" width="0.82" height="0.75" fill="#000"/>
<rect x="781.53" y="502.80" width="0.82" height="0.75" fill="#000"/>
<rect x="783.15" y="502.52" width="3.40" height="4.66" fill="#fff"/>
<rect x="783.42" y="505.04" width="0.82" height="0.75" fill="#000"/>
<rect x="783.42" y="502.80" width="0.82" height="0.75" fill="#000"/>
<rect x="785.53" y="506.15" width="0.82" height="0.75" fill="#000"/>
<rect x="784.48" y="506.15" width="0.82" height="0.75" fill="#000"/>
<rect x="787.15" y="502.52" width="3.40" height="4.66" fill="#fff"/>
<rect x="789.53" y="505.04" width="0.82" height="0.75" fill="#000"/>
<rect x="789.53" y="502.80" width="0.82" height="0.75" fill="#000"/>
<rect x="787.42" y="503.92" width="0.82" height="0.75" fill="#000"/>
<rect x="789.53" y="503.92" width="0.82" height="0.75" fill="#000"/>
<rect x="791.15" y="502.52" width="3.40" height="4.66" fill="#fff"/>
<rect x="791.42" y="503.92" width="0.82" height="0.75" fill="#000"/>
<rect x="793.53" y="503.92" width="0.82" height="0.75" fill="#000"/>
<rect x="792.48" y="506.15" width="0.82" height="0.75" fill="#000"/>
<rect x="792.48" y="503.92" width="0.82" height="0.75" fill="#000"/>
<text x="822.5" y="506.97999999999996" font-family="Liberation Sans" font-size="6.8" fill="#ffffff" text-anchor="middle" font-weight="bold" stroke="#fff" stroke-width="0.25" textLength="3.5" lengthAdjust="spacingAndGlyphs">4</text>
<text x="842" y="506.97999999999996" font-family="Liberation Sans" font-size="6.6" fill="#ffffff" text-anchor="start" font-weight="bold" stroke="#fff" stroke-width="0.25" textLength="8.8" lengthAdjust="spacingAndGlyphs">T10A</text>
<text x="721.6" y="514.64" font-family="Liberation Sans" font-size="6.8" fill="#ffffff" text-anchor="middle" font-weight="bold" stroke="#fff" stroke-width="0.25" textLength="2.5" lengthAdjust="spacingAndGlyphs">9</text>
<text x="732" y="514.64" font-family="Liberation Sans" font-size="6.6" fill="#ffffff" text-anchor="start" font-weight="bold" stroke="#fff" stroke-width="0.25" textLength="36" lengthAdjust="spacingAndGlyphs">JB/T8043.3-1999</text>
<rect x="775.15" y="510.18" width="3.40" height="4.66" fill="#fff"/>
<rect x="777.53" y="510.46" width="0.82" height="0.75" fill="#000"/>
<rect x="777.53" y="511.58" width="0.82" height="0.75" fill="#000"/>
<rect x="775.42" y="510.46" width="0.82" height="0.75" fill="#000"/>
<rect x="777.53" y="513.81" width="0.82" height="0.75" fill="#000"/>
<rect x="779.15" y="510.18" width="3.40" height="4.66" fill="#fff"/>
<rect x="779.42" y="512.70" width="0.82" height="0.75" fill="#000"/>
<rect x="779.42" y="511.58" width="0.82" height="0.75" fill="#000"/>
<rect x="781.53" y="513.81" width="0.82" height="0.75" fill="#000"/>
<rect x="780.48" y="510.46" width="0.82" height="0.75" fill="#000"/>
<rect x="783.15" y="510.18" width="3.40" height="4.66" fill="#fff"/>
<rect x="785.53" y="512.70" width="0.82" height="0.75" fill="#000"/>
<rect x="785.53" y="510.46" width="0.82" height="0.75" fill="#000"/>
<rect x="783.42" y="513.81" width="0.82" height="0.75" fill="#000"/>
<rect x="783.42" y="511.58" width="0.82" height="0.75" fill="#000"/>
<rect x="787.15" y="510.18" width="3.40" height="4.66" fill="#fff"/>
<rect x="788.48" y="512.70" width="0.82" height="0.75" fill="#000"/>
<rect x="789.53" y="511.58" width="0.82" height="0.75" fill="#000"/>
<rect x="787.42" y="511.58" width="0.82" height="0.75" fill="#000"/>
<rect x="788.48" y="513.81" width="0.82" height="0.75" fill="#000"/>
<rect x="791.15" y="510.18" width="3.40" height="4.66" fill="#fff"/>
<rect x="793.53" y="513.81" width="0.82" height="0.75" fill="#000"/>
<rect x="792.48" y="512.70" width="0.82" height="0.75" fill="#000"/>
<rect x="793.53" y="511.58" width="0.82" height="0.75" fill="#000"/>
<rect x="793.53" y="512.70" width="0.82" height="0.75" fill="#000"/>
<text x="822.5" y="514.64" font-family="Liberation Sans" font-size="6.8" fill="#ffffff" text-anchor="middle" font-weight="bold" stroke="#fff" stroke-width="0.25" textLength="3.5" lengthAdjust="spacingAndGlyphs">4</text>
<text x="842" y="514.64" font-family="Liberation Sans" font-size="6.6" fill="#ffffff" text-anchor="start" font-weight="bold" stroke="#fff" stroke-width="0.25" textLength="4.5" lengthAdjust="spacingAndGlyphs">45</text>
<rect x="846.95" y="510.18" width="2.40" height="4.66" fill="#fff"/>
<rect x="847.89" y="512.70" width="0.58" height="0.75" fill="#000"/>
<rect x="848.63" y="510.46" width="0.58" height="0.75" fill="#000"/>
<rect x="847.14" y="512.70" width="0.58" height="0.75" fill="#000"/>
<rect x="847.89" y="511.58" width="0.58" height="0.75" fill="#000"/>
<text x="721.6" y="522.3" font-family="Liberation Sans" font-size="6.8" fill="#ffffff" text-anchor="middle" font-weight="bold" stroke="#fff" stroke-width="0.25" textLength="2.5" lengthAdjust="spacingAndGlyphs">8</text>
<text x="732" y="522.3" font-family="Liberation Sans" font-size="6.6" fill="#ffffff" text-anchor="start" font-weight="bold" stroke="#fff" stroke-width="0.25" textLength="31" lengthAdjust="spacingAndGlyphs">GB/T1152-1989</text>
<rect x="775.15" y="517.84" width="3.20" height="4.66" fill="#fff"/>
<rect x="775.41" y="520.36" width="0.77" height="0.75" fill="#000"/>
<rect x="776.40" y="518.12" width="0.77" height="0.75" fill="#000"/>
<rect x="775.41" y="521.47" width="0.77" height="0.75" fill="#000"/>
<rect x="777.39" y="521.47" width="0.77" height="0.75" fill="#000"/>
<rect x="778.95" y="517.84" width="3.20" height="4.66" fill="#fff"/>
<rect x="781.19" y="518.12" width="0.77" height="0.75" fill="#000"/>
<rect x="781.19" y="519.24" width="0.77" height="0.75" fill="#000"/>
<rect x="781.19" y="520.36" width="0.77" height="0.75" fill="#000"/>
<rect x="779.21" y="520.36" width="0.77" height="0.75" fill="#000"/>
<rect x="782.75" y="517.84" width="3.20" height="4.66" fill="#fff"/>
<rect x="784.99" y="518.12" width="0.77" height="0.75" fill="#000"/>
<rect x="784.00" y="521.47" width="0.77" height="0.75" fill="#000"/>
<rect x="784.00" y="519.24" width="0.77" height="0.75" fill="#000"/>
<rect x="783.01" y="521.47" width="0.77" height="0.75" fill="#000"/>
<rect x="786.55" y="517.84" width="3.20" height="4.66" fill="#fff"/>
<rect x="787.80" y="518.12" width="0.77" height="0.75" fill="#000"/>
<rect x="786.81" y="521.47" width="0.77" height="0.75" fill="#000"/>
<rect x="788.79" y="520.36" width="0.77" height="0.75" fill="#000"/>
<rect x="786.81" y="518.12" width="0.77" height="0.75" fill="#000"/>
<rect x="790.35" y="517.84" width="3.20" height="4.66" fill="#fff"/>
<rect x="790.61" y="520.36" width="0.77" height="0.75" fill="#000"/>
<rect x="792.59" y="518.12" width="0.77" height="0.75" fill="#000"/>
<rect x="791.60" y="521.47" width="0.77" height="0.75" fill="#000"/>
<rect x="790.61" y="518.12" width="0.77" height="0.75" fill="#000"/>
<text x="822.5" y="522.3" font-family="Liberation Sans" font-size="6.8" fill="#ffffff" text-anchor="middle" font-weight="bold" stroke="#fff" stroke-width="0.25" textLength="5" lengthAdjust="spacingAndGlyphs">12</text>
<text x="842" y="522.3" font-family="Liberation Sans" font-size="6.6" fill="#ffffff" text-anchor="start" font-weight="bold" stroke="#fff" stroke-width="0.25" textLength="4.4" lengthAdjust="spacingAndGlyphs">T8</text>
<text x="721.6" y="529.9599999999999" font-family="Liberation Sans" font-size="6.8" fill="#ffffff" text-anchor="middle" font-weight="bold" stroke="#fff" stroke-width="0.25" textLength="2.5" lengthAdjust="spacingAndGlyphs">7</text>
<text x="732" y="529.9599999999999" font-family="Liberation Sans" font-size="6.6" fill="#ffffff" text-anchor="start" font-weight="bold" stroke="#fff" stroke-width="0.25" textLength="29" lengthAdjust="spacingAndGlyphs">GB/T70.1-2000</text>
<rect x="775.15" y="525.50" width="3.20" height="4.66" fill="#fff"/>
<rect x="776.40" y="528.02" width="0.77" height="0.75" fill="#000"/>
<rect x="775.41" y="528.02" width="0.77" height="0.75" fill="#000"/>
<rect x="776.40" y="529.13" width="0.77" height="0.75" fill="#000"/>
<rect x="777.39" y="529.13" width="0.77" height="0.75" fill="#000"/>
<rect x="778.95" y="525.50" width="3.20" height="4.66" fill="#fff"/>
<rect x="779.21" y="529.13" width="0.77" height="0.75" fill="#000"/>
<rect x="779.21" y="528.02" width="0.77" height="0.75" fill="#000"/>
<rect x="780.20" y="525.78" width="0.77" height="0.75" fill="#000"/>
<rect x="779.21" y="526.90" width="0.77" height="0.75" fill="#000"/>
<rect x="782.75" y="525.50" width="3.20" height="4.66" fill="#fff"/>
<rect x="784.00" y="528.02" width="0.77" height="0.75" fill="#000"/>
<rect x="783.01" y="525.78" width="0.77" height="0.75" fill="#000"/>
<rect x="783.01" y="526.90" width="0.77" height="0.75" fill="#000"/>
<rect x="784.00" y="525.78" width="0.77" height="0.75" fill="#000"/>
<rect x="786.55" y="525.50" width="3.20" height="4.66" fill="#fff"/>
<rect x="788.79" y="528.02" width="0.77" height="0.75" fill="#000"/>
<rect x="788.79" y="525.78" width="0.77" height="0.75" fill="#000"/>
<rect x="786.81" y="526.90" width="0.77" height="0.75" fill="#000"/>
<rect x="786.81" y="528.02" width="0.77" height="0.75" fill="#000"/>
<rect x="790.35" y="525.50" width="3.20" height="4.66" fill="#fff"/>
<rect x="792.59" y="529.13" width="0.77" height="0.75" fill="#000"/>
<rect x="791.60" y="528.02" width="0.77" height="0.75" fill="#000"/>
<rect x="792.59" y="525.78" width="0.77" height="0.75" fill="#000"/>
<rect x="790.61" y="526.90" width="0.77" height="0.75" fill="#000"/>
<text x="822.5" y="529.9599999999999" font-family="Liberation Sans" font-size="6.8" fill="#ffffff" text-anchor="middle" font-weight="bold" stroke="#fff" stroke-width="0.25" textLength="3.5" lengthAdjust="spacingAndGlyphs">2</text>
<text x="842" y="529.9599999999999" font-family="Liberation Sans" font-size="6.6" fill="#ffffff" text-anchor="start" font-weight="bold" stroke="#fff" stroke-width="0.25" textLength="4.5" lengthAdjust="spacingAndGlyphs">35</text>
<rect x="846.95" y="525.50" width="2.40" height="4.66" fill="#fff"/>
<rect x="847.89" y="529.13" width="0.58" height="0.75" fill="#000"/>
<rect x="848.63" y="529.13" width="0.58" height="0.75" fill="#000"/>
<rect x="847.14" y="526.90" width="0.58" height="0.75" fill="#000"/>
<rect x="848.63" y="526.90" width="0.58" height="0.75" fill="#000"/>
<text x="721.6" y="537.62" font-family="Liberation Sans" font-size="6.8" fill="#ffffff" text-anchor="middle" font-weight="bold" stroke="#fff" stroke-width="0.25" textLength="2.5" lengthAdjust="spacingAndGlyphs">6</text>
<text x="732" y="537.62" font-family="Liberation Sans" font-size="6.6" fill="#ffffff" text-anchor="start" font-weight="bold" stroke="#fff" stroke-width="0.25" textLength="33" lengthAdjust="spacingAndGlyphs">GB/T5782-2000</text>
<rect x="775.15" y="533.16" width="3.20" height="4.66" fill="#fff"/>
<rect x="775.41" y="536.79" width="0.77" height="0.75" fill="#000"/>
<rect x="776.40" y="535.68" width="0.77" height="0.75" fill="#000"/>
<rect x="776.40" y="536.79" width="0.77" height="0.75" fill="#000"/>
<rect x="777.39" y="536.79" width="0.77" height="0.75" fill="#000"/>
<rect x="778.95" y="533.16" width="3.20" height="4.66" fill="#fff"/>
<rect x="779.21" y="536.79" width="0.77" height="0.75" fill="#000"/>
<rect x="781.19" y="536.79" width="0.77" height="0.75" fill="#000"/>
<rect x="780.20" y="534.56" width="0.77" height="0.75" fill="#000"/>
<rect x="781.19" y="533.44" width="0.77" height="0.75" fill="#000"/>
<rect x="782.75" y="533.16" width="3.20" height="4.66" fill="#fff"/>
<rect x="783.01" y="535.68" width="0.77" height="0.75" fill="#000"/>
<rect x="783.01" y="533.44" width="0.77" height="0.75" fill="#000"/>
<rect x="784.00" y="533.44" width="0.77" height="0.75" fill="#000"/>
<rect x="784.99" y="533.44" width="0.77" height="0.75" fill="#000"/>
<rect x="786.55" y="533.16" width="3.20" height="4.66" fill="#fff"/>
<rect x="788.79" y="536.79" width="0.77" height="0.75" fill="#000"/>
<rect x="787.80" y="534.56" width="0.77" height="0.75" fill="#000"/>
<rect x="788.79" y="534.56" width="0.77" height="0.75" fill="#000"/>
<rect x="787.80" y="536.79" width="0.77" height="0.75" fill="#000"/>
<rect x="790.35" y="533.16" width="3.20" height="4.66" fill="#fff"/>
<rect x="790.61" y="533.44" width="0.77" height="0.75" fill="#000"/>
<rect x="791.60" y="536.79" width="0.77" height="0.75" fill="#000"/>
<rect x="790.61" y="536.79" width="0.77" height="0.75" fill="#000"/>
<rect x="790.61" y="534.56" width="0.77" height="0.75" fill="#000"/>
<text x="822.5" y="537.62" font-family="Liberation Sans" font-size="6.8" fill="#ffffff" text-anchor="middle" font-weight="bold" stroke="#fff" stroke-width="0.25" textLength="3.5" lengthAdjust="spacingAndGlyphs">1</text>
<text x="842" y="537.62" font-family="Liberation Sans" font-size="6.6" fill="#ffffff" text-anchor="start" font-weight="bold" stroke="#fff" stroke-width="0.25" textLength="4.5" lengthAdjust="spacingAndGlyphs">45</text>
<rect x="846.95" y="533.16" width="2.40" height="4.66" fill="#fff"/>
<rect x="847.89" y="536.79" width="0.58" height="0.75" fill="#000"/>
<rect x="848.63" y="536.79" width="0.58" height="0.75" fill="#000"/>
<rect x="847.14" y="533.44" width="0.58" height="0.75" fill="#000"/>
<rect x="847.89" y="534.56" width="0.58" height="0.75" fill="#000"/>
<text x="721.6" y="545.28" font-family="Liberation Sans" font-size="6.8" fill="#ffffff" text-anchor="middle" font-weight="bold" stroke="#fff" stroke-width="0.25" textLength="2.5" lengthAdjust="spacingAndGlyphs">5</text>
<text x="732" y="545.28" font-family="Liberation Sans" font-size="6.6" fill="#ffffff" text-anchor="start" font-weight="bold" stroke="#fff" stroke-width="0.25" textLength="36" lengthAdjust="spacingAndGlyphs">JB/T8045.3-1999</text>
<rect x="775.15" y="540.82" width="3.20" height="4.66" fill="#fff"/>
<rect x="777.39" y="542.22" width="0.77" height="0.75" fill="#000"/>
<rect x="775.41" y="542.22" width="0.77" height="0.75" fill="#000"/>
<rect x="776.40" y="542.22" width="0.77" height="0.75" fill="#000"/>
<rect x="775.41" y="544.45" width="0.77" height="0.75" fill="#000"/>
<rect x="778.95" y="540.82" width="3.20" height="4.66" fill="#fff"/>
<rect x="780.20" y="541.10" width="0.77" height="0.75" fill="#000"/>
<rect x="781.19" y="544.45" width="0.77" height="0.75" fill="#000"/>
<rect x="779.21" y="541.10" width="0.77" height="0.75" fill="#000"/>
<rect x="780.20" y="544.45" width="0.77" height="0.75" fill="#000"/>
<rect x="782.75" y="540.82" width="3.20" height="4.66" fill="#fff"/>
<rect x="784.99" y="544.45" width="0.77" height="0.75" fill="#000"/>
<rect x="783.01" y="541.10" width="0.77" height="0.75" fill="#000"/>
<rect x="784.00" y="542.22" width="0.77" height="0.75" fill="#000"/>
<rect x="784.00" y="543.34" width="0.77" height="0.75" fill="#000"/>
<rect x="786.55" y="540.82" width="3.20" height="4.66" fill="#fff"/>
<rect x="786.81" y="543.34" width="0.77" height="0.75" fill="#000"/>
<rect x="788.79" y="542.22" width="0.77" height="0.75" fill="#000"/>
<rect x="787.80" y="541.10" width="0.77" height="0.75" fill="#000"/>
<rect x="787.80" y="544.45" width="0.77" height="0.75" fill="#000"/>
<rect x="790.35" y="540.82" width="3.20" height="4.66" fill="#fff"/>
<rect x="792.59" y="543.34" width="0.77" height="0.75" fill="#000"/>
<rect x="791.60" y="543.34" width="0.77" height="0.75" fill="#000"/>
<rect x="792.59" y="542.22" width="0.77" height="0.75" fill="#000"/>
<rect x="791.60" y="544.45" width="0.77" height="0.75" fill="#000"/>
<text x="822.5" y="545.28" font-family="Liberation Sans" font-size="6.8" fill="#ffffff" text-anchor="middle" font-weight="bold" stroke="#fff" stroke-width="0.25" textLength="3.5" lengthAdjust="spacingAndGlyphs">1</text>
<text x="842" y="545.28" font-family="Liberation Sans" font-size="6.6" fill="#ffffff" text-anchor="start" font-weight="bold" stroke="#fff" stroke-width="0.25" textLength="8.8" lengthAdjust="spacingAndGlyphs">20Cr</text>
<text x="721.6" y="552.9399999999999" font-family="Liberation Sans" font-size="6.8" fill="#ffffff" text-anchor="middle" font-weight="bold" stroke="#fff" stroke-width="0.25" textLength="2.5" lengthAdjust="spacingAndGlyphs">4</text>
<text x="732" y="552.9399999999999" font-family="Liberation Sans" font-size="6.6" fill="#ffffff" text-anchor="start" font-weight="bold" stroke="#fff" stroke-width="0.25" textLength="36" lengthAdjust="spacingAndGlyphs">JB/T8043.3-1999</text>
<rect x="775.15" y="548.48" width="3.57" height="4.66" fill="#fff"/>
<rect x="777.65" y="549.88" width="0.86" height="0.75" fill="#000"/>
<rect x="776.54" y="548.76" width="0.86" height="0.75" fill="#000"/>
<rect x="775.44" y="548.76" width="0.86" height="0.75" fill="#000"/>
<rect x="775.44" y="549.88" width="0.86" height="0.75" fill="#000"/>
<rect x="779.32" y="548.48" width="3.57" height="4.66" fill="#fff"/>
<rect x="780.71" y="552.11" width="0.86" height="0.75" fill="#000"/>
<rect x="779.60" y="552.11" width="0.86" height="0.75" fill="#000"/>
<rect x="779.60" y="548.76" width="0.86" height="0.75" fill="#000"/>
<rect x="779.60" y="551.00" width="0.86" height="0.75" fill="#000"/>
<rect x="783.48" y="548.48" width="3.57" height="4.66" fill="#fff"/>
<rect x="783.77" y="551.00" width="0.86" height="0.75" fill="#000"/>
<rect x="784.87" y="552.11" width="0.86" height="0.75" fill="#000"/>
<rect x="783.77" y="552.11" width="0.86" height="0.75" fill="#000"/>
<rect x="783.77" y="549.88" width="0.86" height="0.75" fill="#000"/>
<rect x="787.65" y="548.48" width="3.57" height="4.66" fill="#fff"/>
<rect x="789.04" y="548.76" width="0.86" height="0.75" fill="#000"/>
<rect x="789.04" y="551.00" width="0.86" height="0.75" fill="#000"/>
<rect x="790.15" y="551.00" width="0.86" height="0.75" fill="#000"/>
<rect x="787.94" y="549.88" width="0.86" height="0.75" fill="#000"/>
<rect x="791.82" y="548.48" width="3.57" height="4.66" fill="#fff"/>
<rect x="792.10" y="549.88" width="0.86" height="0.75" fill="#000"/>
<rect x="792.10" y="548.76" width="0.86" height="0.75" fill="#000"/>
<rect x="793.21" y="551.00" width="0.86" height="0.75" fill="#000"/>
<rect x="793.21" y="548.76" width="0.86" height="0.75" fill="#000"/>
<rect x="795.98" y="548.48" width="3.57" height="4.66" fill="#fff"/>
<rect x="796.27" y="548.76" width="0.86" height="0.75" fill="#000"/>
<rect x="798.48" y="548.76" width="0.86" height="0.75" fill="#000"/>
<rect x="797.37" y="551.00" width="0.86" height="0.75" fill="#000"/>
<rect x="797.37" y="549.88" width="0.86" height="0.75" fill="#000"/>
<text x="822.5" y="552.9399999999999" font-family="Liberation Sans" font-size="6.8" fill="#ffffff" text-anchor="middle" font-weight="bold" stroke="#fff" stroke-width="0.25" textLength="3.5" lengthAdjust="spacingAndGlyphs">1</text>
<text x="842" y="552.9399999999999" font-family="Liberation Sans" font-size="6.6" fill="#ffffff" text-anchor="start" font-weight="bold" stroke="#fff" stroke-width="0.25" textLength="4.5" lengthAdjust="spacingAndGlyphs">45</text>
<rect x="846.95" y="548.48" width="2.40" height="4.66" fill="#fff"/>
<rect x="847.14" y="551.00" width="0.58" height="0.75" fill="#000"/>
<rect x="847.89" y="551.00" width="0.58" height="0.75" fill="#000"/>
<rect x="847.14" y="548.76" width="0.58" height="0.75" fill="#000"/>
<rect x="848.63" y="549.88" width="0.58" height="0.75" fill="#000"/>
<text x="721.6" y="560.6" font-family="Liberation Sans" font-size="6.8" fill="#ffffff" text-anchor="middle" font-weight="bold" stroke="#fff" stroke-width="0.25" textLength="2.5" lengthAdjust="spacingAndGlyphs">3</text>
<text x="732" y="560.6" font-family="Liberation Sans" font-size="6.6" fill="#ffffff" text-anchor="start" font-weight="bold" stroke="#fff" stroke-width="0.25" textLength="36" lengthAdjust="spacingAndGlyphs">JB/T8003.2-1999</text>
<rect x="775.15" y="556.14" width="3.00" height="4.66" fill="#fff"/>
<rect x="775.39" y="556.42" width="0.72" height="0.75" fill="#000"/>
<rect x="777.25" y="558.66" width="0.72" height="0.75" fill="#000"/>
<rect x="776.32" y="557.54" width="0.72" height="0.75" fill="#000"/>
<rect x="776.32" y="558.66" width="0.72" height="0.75" fill="#000"/>
<rect x="778.75" y="556.14" width="3.00" height="4.66" fill="#fff"/>
<rect x="780.85" y="556.42" width="0.72" height="0.75" fill="#000"/>
<rect x="779.92" y="557.54" width="0.72" height="0.75" fill="#000"/>
<rect x="778.99" y="558.66" width="0.72" height="0.75" fill="#000"/>
<rect x="778.99" y="557.54" width="0.72" height="0.75" fill="#000"/>
<rect x="782.35" y="556.14" width="3.00" height="4.66" fill="#fff"/>
<rect x="782.59" y="558.66" width="0.72" height="0.75" fill="#000"/>
<rect x="784.45" y="559.77" width="0.72" height="0.75" fill="#000"/>
<rect x="783.52" y="558.66" width="0.72" height="0.75" fill="#000"/>
<rect x="783.52" y="557.54" width="0.72" height="0.75" fill="#000"/>
<rect x="785.95" y="556.14" width="3.00" height="4.66" fill="#fff"/>
<rect x="787.12" y="557.54" width="0.72" height="0.75" fill="#000"/>
<rect x="788.05" y="558.66" width="0.72" height="0.75" fill="#000"/>
<rect x="786.19" y="558.66" width="0.72" height="0.75" fill="#000"/>
<rect x="788.05" y="559.77" width="0.72" height="0.75" fill="#000"/>
<rect x="789.55" y="556.14" width="3.00" height="4.66" fill="#fff"/>
<rect x="791.65" y="559.77" width="0.72" height="0.75" fill="#000"/>
<rect x="789.79" y="559.77" width="0.72" height="0.75" fill="#000"/>
<rect x="791.65" y="558.66" width="0.72" height="0.75" fill="#000"/>
<rect x="789.79" y="558.66" width="0.72" height="0.75" fill="#000"/>
<text x="822.5" y="560.6" font-family="Liberation Sans" font-size="6.8" fill="#ffffff" text-anchor="middle" font-weight="bold" stroke="#fff" stroke-width="0.25" textLength="3.5" lengthAdjust="spacingAndGlyphs">1</text>
<text x="842" y="560.6" font-family="Liberation Sans" font-size="6.6" fill="#ffffff" text-anchor="start" font-weight="bold" stroke="#fff" stroke-width="0.25" textLength="4.5" lengthAdjust="spacingAndGlyphs">45</text>
<rect x="846.95" y="556.14" width="2.40" height="4.66" fill="#fff"/>
<rect x="847.89" y="556.42" width="0.58" height="0.75" fill="#000"/>
<rect x="847.14" y="559.77" width="0.58" height="0.75" fill="#000"/>
<rect x="847.14" y="556.42" width="0.58" height="0.75" fill="#000"/>
<rect x="848.63" y="557.54" width="0.58" height="0.75" fill="#000"/>
<text x="721.6" y="568.26" font-family="Liberation Sans" font-size="6.8" fill="#ffffff" text-anchor="middle" font-weight="bold" stroke="#fff" stroke-width="0.25" textLength="2.5" lengthAdjust="spacingAndGlyphs">2</text>
<text x="732" y="568.26" font-family="Liberation Sans" font-size="6.6" fill="#ffffff" text-anchor="start" font-weight="bold" stroke="#fff" stroke-width="0.25" textLength="26" lengthAdjust="spacingAndGlyphs">GB/T41-2000</text>
<rect x="775.15" y="563.80" width="3.80" height="4.66" fill="#fff"/>
<rect x="775.45" y="565.20" width="0.91" height="0.75" fill="#000"/>
<rect x="776.63" y="566.32" width="0.91" height="0.75" fill="#000"/>
<rect x="777.81" y="566.32" width="0.91" height="0.75" fill="#000"/>
<rect x="775.45" y="566.32" width="0.91" height="0.75" fill="#000"/>
<rect x="779.55" y="563.80" width="3.80" height="4.66" fill="#fff"/>
<rect x="779.85" y="564.08" width="0.91" height="0.75" fill="#000"/>
<rect x="781.03" y="564.08" width="0.91" height="0.75" fill="#000"/>
<rect x="782.21" y="567.43" width="0.91" height="0.75" fill="#000"/>
<rect x="779.85" y="567.43" width="0.91" height="0.75" fill="#000"/>
<rect x="783.95" y="563.80" width="3.80" height="4.66" fill="#fff"/>
<rect x="786.61" y="566.32" width="0.91" height="0.75" fill="#000"/>
<rect x="786.61" y="565.20" width="0.91" height="0.75" fill="#000"/>
<rect x="784.25" y="564.08" width="0.91" height="0.75" fill="#000"/>
<rect x="785.43" y="567.43" width="0.91" height="0.75" fill="#000"/>
<rect x="788.35" y="563.80" width="3.80" height="4.66" fill="#fff"/>
<rect x="791.01" y="567.43" width="0.91" height="0.75" fill="#000"/>
<rect x="789.83" y="566.32" width="0.91" height="0.75" fill="#000"/>
<rect x="791.01" y="566.32" width="0.91" height="0.75" fill="#000"/>
<rect x="788.65" y="565.20" width="0.91" height="0.75" fill="#000"/>
<rect x="792.75" y="563.80" width="3.80" height="4.66" fill="#fff"/>
<rect x="794.23" y="564.08" width="0.91" height="0.75" fill="#000"/>
<rect x="793.05" y="567.43" width="0.91" height="0.75" fill="#000"/>
<rect x="795.41" y="564.08" width="0.91" height="0.75" fill="#000"/>
<rect x="793.05" y="565.20" width="0.91" height="0.75" fill="#000"/>
<text x="822.5" y="568.26" font-family="Liberation Sans" font-size="6.8" fill="#ffffff" text-anchor="middle" font-weight="bold" stroke="#fff" stroke-width="0.25" textLength="3.5" lengthAdjust="spacingAndGlyphs">1</text>
<text x="842" y="568.26" font-family="Liberation Sans" font-size="6.6" fill="#ffffff" text-anchor="start" font-weight="bold" stroke="#fff" stroke-width="0.25" textLength="4.5" lengthAdjust="spacingAndGlyphs">45</text>
<rect x="846.95" y="563.80" width="2.40" height="4.66" fill="#fff"/>
<rect x="847.14" y="565.20" width="0.58" height="0.75" fill="#000"/>
<rect x="847.14" y="567.43" width="0.58" height="0.75" fill="#000"/>
<rect x="848.63" y="567.43" width="0.58" height="0.75" fill="#000"/>
<rect x="847.14" y="566.32" width="0.58" height="0.75" fill="#000"/>
<text x="721.6" y="575.92" font-family="Liberation Sans" font-size="6.8" fill="#ffffff" text-anchor="middle" font-weight="bold" stroke="#fff" stroke-width="0.25" textLength="2.5" lengthAdjust="spacingAndGlyphs">1</text>
<rect x="775.15" y="571.46" width="2.25" height="4.66" fill="#fff"/>
<rect x="776.03" y="571.74" width="0.54" height="0.75" fill="#000"/>
<rect x="775.33" y="572.86" width="0.54" height="0.75" fill="#000"/>
<rect x="776.03" y="573.98" width="0.54" height="0.75" fill="#000"/>
<rect x="776.73" y="573.98" width="0.54" height="0.75" fill="#000"/>
<rect x="778.00" y="571.46" width="2.25" height="4.66" fill="#fff"/>
<rect x="779.58" y="571.74" width="0.54" height="0.75" fill="#000"/>
<rect x="778.18" y="571.74" width="0.54" height="0.75" fill="#000"/>
<rect x="779.58" y="573.98" width="0.54" height="0.75" fill="#000"/>
<rect x="778.88" y="575.09" width="0.54" height="0.75" fill="#000"/>
<text x="822.5" y="575.92" font-family="Liberation Sans" font-size="6.8" fill="#ffffff" text-anchor="middle" font-weight="bold" stroke="#fff" stroke-width="0.25" textLength="3.5" lengthAdjust="spacingAndGlyphs">1</text>
<text x="842" y="575.92" font-family="Liberation Sans" font-size="6.6" fill="#ffffff" text-anchor="start" font-weight="bold" stroke="#fff" stroke-width="0.25" textLength="11.0" lengthAdjust="spacingAndGlyphs">HT200</text>
<rect x="719.15" y="581.00" width="4.40" height="8.00" fill="#fff"/>
<rect x="720.87" y="587.24" width="1.06" height="1.28" fill="#000"/>
<rect x="722.23" y="581.48" width="1.06" height="1.28" fill="#000"/>
<rect x="722.23" y="587.24" width="1.06" height="1.28" fill="#000"/>
<rect x="719.50" y="583.40" width="1.06" height="1.28" fill="#000"/>
<rect x="742.15" y="581.00" width="2.90" height="7.00" fill="#fff"/>
<rect x="744.18" y="586.46" width="0.70" height="1.12" fill="#000"/>
<rect x="744.18" y="581.42" width="0.70" height="1.12" fill="#000"/>
<rect x="742.38" y="583.10" width="0.70" height="1.12" fill="#000"/>
<rect x="742.38" y="581.42" width="0.70" height="1.12" fill="#000"/>
<rect x="745.65" y="581.00" width="2.90" height="7.00" fill="#fff"/>
<rect x="745.88" y="583.10" width="0.70" height="1.12" fill="#000"/>
<rect x="747.68" y="586.46" width="0.70" height="1.12" fill="#000"/>
<rect x="746.78" y="581.42" width="0.70" height="1.12" fill="#000"/>
<rect x="747.68" y="581.42" width="0.70" height="1.12" fill="#000"/>
<rect x="788.15" y="581.00" width="2.65" height="8.00" fill="#fff"/>
<rect x="789.18" y="587.24" width="0.64" height="1.28" fill="#000"/>
<rect x="789.18" y="581.48" width="0.64" height="1.28" fill="#000"/>
<rect x="789.18" y="585.32" width="0.64" height="1.28" fill="#000"/>
<rect x="789.18" y="583.40" width="0.64" height="1.28" fill="#000"/>
<rect x="791.40" y="581.00" width="2.65" height="8.00" fill="#fff"/>
<rect x="791.61" y="583.40" width="0.64" height="1.28" fill="#000"/>
<rect x="792.43" y="585.32" width="0.64" height="1.28" fill="#000"/>
<rect x="791.61" y="585.32" width="0.64" height="1.28" fill="#000"/>
<rect x="792.43" y="587.24" width="0.64" height="1.28" fill="#000"/>
<rect x="820.15" y="581.00" width="3.40" height="8.00" fill="#fff"/>
<rect x="822.53" y="581.48" width="0.82" height="1.28" fill="#000"/>
<rect x="820.42" y="585.32" width="0.82" height="1.28" fill="#000"/>
<rect x="820.42" y="581.48" width="0.82" height="1.28" fill="#000"/>
<rect x="822.53" y="587.24" width="0.82" height="1.28" fill="#000"/>
<rect x="842.15" y="581.00" width="2.40" height="8.00" fill="#fff"/>
<rect x="843.09" y="581.48" width="0.58" height="1.28" fill="#000"/>
<rect x="843.83" y="587.24" width="0.58" height="1.28" fill="#000"/>
<rect x="842.34" y="581.48" width="0.58" height="1.28" fill="#000"/>
<rect x="843.83" y="585.32" width="0.58" height="1.28" fill="#000"/>
<rect x="845.15" y="581.00" width="2.40" height="8.00" fill="#fff"/>
<rect x="846.83" y="587.24" width="0.58" height="1.28" fill="#000"/>
<rect x="845.34" y="581.48" width="0.58" height="1.28" fill="#000"/>
<rect x="846.09" y="587.24" width="0.58" height="1.28" fill="#000"/>
<rect x="846.09" y="585.32" width="0.58" height="1.28" fill="#000"/>
<rect x="870.15" y="579.00" width="3.90" height="4.50" fill="#fff"/>
<rect x="871.67" y="580.35" width="0.94" height="0.72" fill="#000"/>
<rect x="872.88" y="580.35" width="0.94" height="0.72" fill="#000"/>
<rect x="870.46" y="582.51" width="0.94" height="0.72" fill="#000"/>
<rect x="871.67" y="582.51" width="0.94" height="0.72" fill="#000"/>
<rect x="881.65" y="579.00" width="3.90" height="4.50" fill="#fff"/>
<rect x="884.38" y="579.27" width="0.94" height="0.72" fill="#000"/>
<rect x="883.17" y="581.43" width="0.94" height="0.72" fill="#000"/>
<rect x="881.96" y="579.27" width="0.94" height="0.72" fill="#000"/>
<rect x="884.38" y="582.51" width="0.94" height="0.72" fill="#000"/>
<rect x="876.15" y="587.00" width="4.90" height="4.00" fill="#fff"/>
<rect x="878.06" y="588.20" width="1.18" height="0.64" fill="#000"/>
<rect x="878.06" y="589.16" width="1.18" height="0.64" fill="#000"/>
<rect x="878.06" y="587.24" width="1.18" height="0.64" fill="#000"/>
<rect x="876.54" y="587.24" width="1.18" height="0.64" fill="#000"/>
<rect x="898.15" y="583.00" width="2.90" height="5.50" fill="#fff"/>
<rect x="899.28" y="584.65" width="0.70" height="0.88" fill="#000"/>
<rect x="899.28" y="583.33" width="0.70" height="0.88" fill="#000"/>
<rect x="900.18" y="587.29" width="0.70" height="0.88" fill="#000"/>
<rect x="900.18" y="583.33" width="0.70" height="0.88" fill="#000"/>
<rect x="901.65" y="583.00" width="2.90" height="5.50" fill="#fff"/>
<rect x="901.88" y="587.29" width="0.70" height="0.88" fill="#000"/>
<rect x="902.78" y="585.97" width="0.70" height="0.88" fill="#000"/>
<rect x="902.78" y="583.33" width="0.70" height="0.88" fill="#000"/>
<rect x="903.68" y="583.33" width="0.70" height="0.88" fill="#000"/>
<line x1="717.5" y1="593.5" x2="717.5" y2="654.5" stroke="#ffffff" stroke-width="1" />
<line x1="717.7" y1="600.5" x2="804.5" y2="600.5" stroke="#ffffff" stroke-width="1" />
<line x1="717.7" y1="608.5" x2="804.5" y2="608.5" stroke="#ffffff" stroke-width="1" />
<line x1="717.7" y1="616.5" x2="804.5" y2="616.5" stroke="#ffffff" stroke-width="1" />
<line x1="717.7" y1="623.5" x2="804.5" y2="623.5" stroke="#ffffff" stroke-width="1" />
<line x1="728.5" y1="593.5" x2="728.5" y2="623.1" stroke="#ffffff" stroke-width="1" />
<line x1="738.5" y1="593.5" x2="738.5" y2="623.1" stroke="#ffffff" stroke-width="1" />
<line x1="756.5" y1="593.5" x2="756.5" y2="623.1" stroke="#ffffff" stroke-width="1" />
<line x1="774.5" y1="593.5" x2="774.5" y2="623.1" stroke="#ffffff" stroke-width="1" />
<line x1="787.5" y1="593.5" x2="787.5" y2="623.1" stroke="#ffffff" stroke-width="1" />
<line x1="717.7" y1="631.5" x2="804.5" y2="631.5" stroke="#ffffff" stroke-width="1" />
<line x1="717.7" y1="639.5" x2="804.5" y2="639.5" stroke="#ffffff" stroke-width="1" />
<line x1="717.7" y1="646.5" x2="804.5" y2="646.5" stroke="#ffffff" stroke-width="1" />
<line x1="730.5" y1="623.1" x2="730.5" y2="654.5" stroke="#ffffff" stroke-width="1" />
<line x1="743.5" y1="623.1" x2="743.5" y2="654.5" stroke="#ffffff" stroke-width="1" />
<line x1="760.5" y1="623.1" x2="760.5" y2="654.5" stroke="#ffffff" stroke-width="1" />
<line x1="774.5" y1="623.1" x2="774.5" y2="654.5" stroke="#ffffff" stroke-width="1" />
<line x1="787.5" y1="623.1" x2="787.5" y2="654.5" stroke="#ffffff" stroke-width="1" />
<line x1="804.5" y1="593.5" x2="804.5" y2="654.5" stroke="#ffffff" stroke-width="1" />
<line x1="804.5" y1="623.5" x2="859.7" y2="623.5" stroke="#ffffff" stroke-width="1" />
<line x1="804.5" y1="634.5" x2="859.7" y2="634.5" stroke="#ffffff" stroke-width="1" />
<line x1="804.5" y1="644.5" x2="859.7" y2="644.5" stroke="#ffffff" stroke-width="1" />
<line x1="833.5" y1="623.1" x2="833.5" y2="644.7" stroke="#ffffff" stroke-width="1" />
<line x1="846.5" y1="623.1" x2="846.5" y2="644.7" stroke="#ffffff" stroke-width="1" />
<line x1="811.5" y1="634.1" x2="811.5" y2="644.7" stroke="#ffffff" stroke-width="1" />
<line x1="818.5" y1="634.1" x2="818.5" y2="644.7" stroke="#ffffff" stroke-width="1" />
<line x1="826.5" y1="634.1" x2="826.5" y2="644.7" stroke="#ffffff" stroke-width="1" />
<line x1="833.5" y1="644.7" x2="833.5" y2="654.5" stroke="#ffffff" stroke-width="1" />
<line x1="859.5" y1="593.5" x2="859.5" y2="654.5" stroke="#ffffff" stroke-width="1" />
<line x1="859.7" y1="612.5" x2="914.5" y2="612.5" stroke="#ffffff" stroke-width="1" />
<line x1="859.7" y1="634.5" x2="914.5" y2="634.5" stroke="#ffffff" stroke-width="1" />
<rect x="719.15" y="617.50" width="3.15" height="4.30" fill="#fff"/>
<rect x="721.36" y="618.79" width="0.76" height="0.69" fill="#000"/>
<rect x="720.38" y="620.85" width="0.76" height="0.69" fill="#000"/>
<rect x="719.40" y="619.82" width="0.76" height="0.69" fill="#000"/>
<rect x="720.38" y="617.76" width="0.76" height="0.69" fill="#000"/>
<rect x="722.90" y="617.50" width="3.15" height="4.30" fill="#fff"/>
<rect x="725.11" y="617.76" width="0.76" height="0.69" fill="#000"/>
<rect x="723.15" y="620.85" width="0.76" height="0.69" fill="#000"/>
<rect x="724.13" y="617.76" width="0.76" height="0.69" fill="#000"/>
<rect x="724.13" y="620.85" width="0.76" height="0.69" fill="#000"/>
<rect x="731.15" y="617.50" width="2.15" height="4.30" fill="#fff"/>
<rect x="731.99" y="617.76" width="0.52" height="0.69" fill="#000"/>
<rect x="732.65" y="617.76" width="0.52" height="0.69" fill="#000"/>
<rect x="732.65" y="620.85" width="0.52" height="0.69" fill="#000"/>
<rect x="731.99" y="619.82" width="0.52" height="0.69" fill="#000"/>
<rect x="733.90" y="617.50" width="2.15" height="4.30" fill="#fff"/>
<rect x="735.40" y="617.76" width="0.52" height="0.69" fill="#000"/>
<rect x="734.74" y="619.82" width="0.52" height="0.69" fill="#000"/>
<rect x="734.74" y="620.85" width="0.52" height="0.69" fill="#000"/>
<rect x="734.07" y="618.79" width="0.52" height="0.69" fill="#000"/>
<rect x="741.15" y="617.50" width="4.90" height="4.30" fill="#fff"/>
<rect x="744.58" y="620.85" width="1.18" height="0.69" fill="#000"/>
<rect x="741.54" y="618.79" width="1.18" height="0.69" fill="#000"/>
<rect x="741.54" y="620.85" width="1.18" height="0.69" fill="#000"/>
<rect x="743.06" y="619.82" width="1.18" height="0.69" fill="#000"/>
<rect x="746.65" y="617.50" width="4.90" height="4.30" fill="#fff"/>
<rect x="747.04" y="617.76" width="1.18" height="0.69" fill="#000"/>
<rect x="747.04" y="620.85" width="1.18" height="0.69" fill="#000"/>
<rect x="750.08" y="619.82" width="1.18" height="0.69" fill="#000"/>
<rect x="750.08" y="618.79" width="1.18" height="0.69" fill="#000"/>
<rect x="757.15" y="617.50" width="2.90" height="4.30" fill="#fff"/>
<rect x="758.28" y="618.79" width="0.70" height="0.69" fill="#000"/>
<rect x="758.28" y="619.82" width="0.70" height="0.69" fill="#000"/>
<rect x="757.38" y="618.79" width="0.70" height="0.69" fill="#000"/>
<rect x="758.28" y="620.85" width="0.70" height="0.69" fill="#000"/>
<rect x="760.65" y="617.50" width="2.90" height="4.30" fill="#fff"/>
<rect x="761.78" y="619.82" width="0.70" height="0.69" fill="#000"/>
<rect x="760.88" y="619.82" width="0.70" height="0.69" fill="#000"/>
<rect x="760.88" y="620.85" width="0.70" height="0.69" fill="#000"/>
<rect x="762.68" y="619.82" width="0.70" height="0.69" fill="#000"/>
<rect x="764.15" y="617.50" width="2.90" height="4.30" fill="#fff"/>
<rect x="764.38" y="620.85" width="0.70" height="0.69" fill="#000"/>
<rect x="764.38" y="619.82" width="0.70" height="0.69" fill="#000"/>
<rect x="765.28" y="618.79" width="0.70" height="0.69" fill="#000"/>
<rect x="764.38" y="617.76" width="0.70" height="0.69" fill="#000"/>
<rect x="767.65" y="617.50" width="2.90" height="4.30" fill="#fff"/>
<rect x="769.68" y="618.79" width="0.70" height="0.69" fill="#000"/>
<rect x="768.78" y="619.82" width="0.70" height="0.69" fill="#000"/>
<rect x="767.88" y="618.79" width="0.70" height="0.69" fill="#000"/>
<rect x="769.68" y="619.82" width="0.70" height="0.69" fill="#000"/>
<rect x="776.15" y="617.50" width="3.40" height="4.30" fill="#fff"/>
<rect x="777.48" y="620.85" width="0.82" height="0.69" fill="#000"/>
<rect x="778.53" y="620.85" width="0.82" height="0.69" fill="#000"/>
<rect x="778.53" y="617.76" width="0.82" height="0.69" fill="#000"/>
<rect x="776.42" y="619.82" width="0.82" height="0.69" fill="#000"/>
<rect x="780.15" y="617.50" width="3.40" height="4.30" fill="#fff"/>
<rect x="780.42" y="618.79" width="0.82" height="0.69" fill="#000"/>
<rect x="782.53" y="617.76" width="0.82" height="0.69" fill="#000"/>
<rect x="782.53" y="619.82" width="0.82" height="0.69" fill="#000"/>
<rect x="780.42" y="619.82" width="0.82" height="0.69" fill="#000"/>
<rect x="789.15" y="617.50" width="3.73" height="4.30" fill="#fff"/>
<rect x="789.45" y="617.76" width="0.90" height="0.69" fill="#000"/>
<rect x="789.45" y="620.85" width="0.90" height="0.69" fill="#000"/>
<rect x="789.45" y="618.79" width="0.90" height="0.69" fill="#000"/>
<rect x="791.76" y="618.79" width="0.90" height="0.69" fill="#000"/>
<rect x="793.48" y="617.50" width="3.73" height="4.30" fill="#fff"/>
<rect x="793.78" y="617.76" width="0.90" height="0.69" fill="#000"/>
<rect x="794.94" y="618.79" width="0.90" height="0.69" fill="#000"/>
<rect x="796.10" y="619.82" width="0.90" height="0.69" fill="#000"/>
<rect x="796.10" y="620.85" width="0.90" height="0.69" fill="#000"/>
<rect x="797.82" y="617.50" width="3.73" height="4.30" fill="#fff"/>
<rect x="800.43" y="617.76" width="0.90" height="0.69" fill="#000"/>
<rect x="800.43" y="619.82" width="0.90" height="0.69" fill="#000"/>
<rect x="800.43" y="618.79" width="0.90" height="0.69" fill="#000"/>
<rect x="799.27" y="617.76" width="0.90" height="0.69" fill="#000"/>
<rect x="719.15" y="625.00" width="3.40" height="4.50" fill="#fff"/>
<rect x="721.53" y="625.27" width="0.82" height="0.72" fill="#000"/>
<rect x="720.48" y="625.27" width="0.82" height="0.72" fill="#000"/>
<rect x="721.53" y="628.51" width="0.82" height="0.72" fill="#000"/>
<rect x="721.53" y="626.35" width="0.82" height="0.72" fill="#000"/>
<rect x="723.15" y="625.00" width="3.40" height="4.50" fill="#fff"/>
<rect x="723.42" y="626.35" width="0.82" height="0.72" fill="#000"/>
<rect x="725.53" y="627.43" width="0.82" height="0.72" fill="#000"/>
<rect x="723.42" y="627.43" width="0.82" height="0.72" fill="#000"/>
<rect x="724.48" y="625.27" width="0.82" height="0.72" fill="#000"/>
<rect x="762.15" y="625.00" width="3.40" height="4.50" fill="#fff"/>
<rect x="764.53" y="626.35" width="0.82" height="0.72" fill="#000"/>
<rect x="763.48" y="625.27" width="0.82" height="0.72" fill="#000"/>
<rect x="763.48" y="628.51" width="0.82" height="0.72" fill="#000"/>
<rect x="764.53" y="625.27" width="0.82" height="0.72" fill="#000"/>
<rect x="766.15" y="625.00" width="3.40" height="4.50" fill="#fff"/>
<rect x="768.53" y="626.35" width="0.82" height="0.72" fill="#000"/>
<rect x="768.53" y="625.27" width="0.82" height="0.72" fill="#000"/>
<rect x="767.48" y="627.43" width="0.82" height="0.72" fill="#000"/>
<rect x="766.42" y="625.27" width="0.82" height="0.72" fill="#000"/>
<rect x="719.15" y="641.00" width="3.40" height="4.20" fill="#fff"/>
<rect x="721.53" y="641.25" width="0.82" height="0.67" fill="#000"/>
<rect x="720.48" y="642.26" width="0.82" height="0.67" fill="#000"/>
<rect x="720.48" y="644.28" width="0.82" height="0.67" fill="#000"/>
<rect x="719.42" y="643.27" width="0.82" height="0.67" fill="#000"/>
<rect x="723.15" y="641.00" width="3.40" height="4.20" fill="#fff"/>
<rect x="725.53" y="641.25" width="0.82" height="0.67" fill="#000"/>
<rect x="724.48" y="644.28" width="0.82" height="0.67" fill="#000"/>
<rect x="725.53" y="644.28" width="0.82" height="0.67" fill="#000"/>
<rect x="723.42" y="644.28" width="0.82" height="0.67" fill="#000"/>
<rect x="719.15" y="648.00" width="2.90" height="4.30" fill="#fff"/>
<rect x="719.38" y="651.35" width="0.70" height="0.69" fill="#000"/>
<rect x="720.28" y="649.29" width="0.70" height="0.69" fill="#000"/>
<rect x="719.38" y="649.29" width="0.70" height="0.69" fill="#000"/>
<rect x="720.28" y="648.26" width="0.70" height="0.69" fill="#000"/>
<rect x="722.65" y="648.00" width="2.90" height="4.30" fill="#fff"/>
<rect x="722.88" y="650.32" width="0.70" height="0.69" fill="#000"/>
<rect x="723.78" y="649.29" width="0.70" height="0.69" fill="#000"/>
<rect x="724.68" y="649.29" width="0.70" height="0.69" fill="#000"/>
<rect x="724.68" y="648.26" width="0.70" height="0.69" fill="#000"/>
<rect x="762.15" y="648.00" width="3.40" height="4.30" fill="#fff"/>
<rect x="764.53" y="650.32" width="0.82" height="0.69" fill="#000"/>
<rect x="764.53" y="651.35" width="0.82" height="0.69" fill="#000"/>
<rect x="763.48" y="648.26" width="0.82" height="0.69" fill="#000"/>
<rect x="763.48" y="649.29" width="0.82" height="0.69" fill="#000"/>
<rect x="766.15" y="648.00" width="3.40" height="4.30" fill="#fff"/>
<rect x="768.53" y="648.26" width="0.82" height="0.69" fill="#000"/>
<rect x="766.42" y="649.29" width="0.82" height="0.69" fill="#000"/>
<rect x="768.53" y="649.29" width="0.82" height="0.69" fill="#000"/>
<rect x="768.53" y="651.35" width="0.82" height="0.69" fill="#000"/>
<rect x="807.15" y="626.00" width="4.15" height="5.50" fill="#fff"/>
<rect x="810.05" y="626.33" width="1.00" height="0.88" fill="#000"/>
<rect x="807.48" y="628.97" width="1.00" height="0.88" fill="#000"/>
<rect x="808.77" y="627.65" width="1.00" height="0.88" fill="#000"/>
<rect x="808.77" y="630.29" width="1.00" height="0.88" fill="#000"/>
<rect x="811.90" y="626.00" width="4.15" height="5.50" fill="#fff"/>
<rect x="813.52" y="627.65" width="1.00" height="0.88" fill="#000"/>
<rect x="814.80" y="626.33" width="1.00" height="0.88" fill="#000"/>
<rect x="812.23" y="630.29" width="1.00" height="0.88" fill="#000"/>
<rect x="814.80" y="628.97" width="1.00" height="0.88" fill="#000"/>
<rect x="816.65" y="626.00" width="4.15" height="5.50" fill="#fff"/>
<rect x="816.98" y="626.33" width="1.00" height="0.88" fill="#000"/>
<rect x="818.27" y="630.29" width="1.00" height="0.88" fill="#000"/>
<rect x="818.27" y="626.33" width="1.00" height="0.88" fill="#000"/>
<rect x="819.55" y="627.65" width="1.00" height="0.88" fill="#000"/>
<rect x="821.40" y="626.00" width="4.15" height="5.50" fill="#fff"/>
<rect x="823.02" y="626.33" width="1.00" height="0.88" fill="#000"/>
<rect x="821.73" y="626.33" width="1.00" height="0.88" fill="#000"/>
<rect x="824.30" y="626.33" width="1.00" height="0.88" fill="#000"/>
<rect x="823.02" y="630.29" width="1.00" height="0.88" fill="#000"/>
<rect x="835.15" y="626.00" width="3.40" height="5.50" fill="#fff"/>
<rect x="837.53" y="630.29" width="0.82" height="0.88" fill="#000"/>
<rect x="837.53" y="628.97" width="0.82" height="0.88" fill="#000"/>
<rect x="836.48" y="627.65" width="0.82" height="0.88" fill="#000"/>
<rect x="835.42" y="628.97" width="0.82" height="0.88" fill="#000"/>
<rect x="839.15" y="626.00" width="3.40" height="5.50" fill="#fff"/>
<rect x="840.48" y="628.97" width="0.82" height="0.88" fill="#000"/>
<rect x="841.53" y="627.65" width="0.82" height="0.88" fill="#000"/>
<rect x="839.42" y="628.97" width="0.82" height="0.88" fill="#000"/>
<rect x="841.53" y="626.33" width="0.82" height="0.88" fill="#000"/>
<rect x="848.15" y="626.00" width="3.65" height="5.50" fill="#fff"/>
<rect x="850.70" y="630.29" width="0.88" height="0.88" fill="#000"/>
<rect x="849.57" y="627.65" width="0.88" height="0.88" fill="#000"/>
<rect x="848.44" y="626.33" width="0.88" height="0.88" fill="#000"/>
<rect x="849.57" y="626.33" width="0.88" height="0.88" fill="#000"/>
<rect x="852.40" y="626.00" width="3.65" height="5.50" fill="#fff"/>
<rect x="853.82" y="626.33" width="0.88" height="0.88" fill="#000"/>
<rect x="854.95" y="627.65" width="0.88" height="0.88" fill="#000"/>
<rect x="852.69" y="630.29" width="0.88" height="0.88" fill="#000"/>
<rect x="854.95" y="628.97" width="0.88" height="0.88" fill="#000"/>
<rect x="849.15" y="637.00" width="2.90" height="5.00" fill="#fff"/>
<rect x="850.28" y="639.70" width="0.70" height="0.80" fill="#000"/>
<rect x="850.28" y="637.30" width="0.70" height="0.80" fill="#000"/>
<rect x="850.28" y="638.50" width="0.70" height="0.80" fill="#000"/>
<rect x="851.18" y="638.50" width="0.70" height="0.80" fill="#000"/>
<rect x="852.65" y="637.00" width="2.90" height="5.00" fill="#fff"/>
<rect x="852.88" y="638.50" width="0.70" height="0.80" fill="#000"/>
<rect x="853.78" y="639.70" width="0.70" height="0.80" fill="#000"/>
<rect x="852.88" y="639.70" width="0.70" height="0.80" fill="#000"/>
<rect x="854.68" y="638.50" width="0.70" height="0.80" fill="#000"/>
<rect x="808.15" y="647.00" width="2.40" height="4.50" fill="#fff"/>
<rect x="809.09" y="649.43" width="0.58" height="0.72" fill="#000"/>
<rect x="809.83" y="649.43" width="0.58" height="0.72" fill="#000"/>
<rect x="809.09" y="648.35" width="0.58" height="0.72" fill="#000"/>
<rect x="809.83" y="650.51" width="0.58" height="0.72" fill="#000"/>
<rect x="825.15" y="647.00" width="2.40" height="4.50" fill="#fff"/>
<rect x="825.34" y="650.51" width="0.58" height="0.72" fill="#000"/>
<rect x="826.83" y="650.51" width="0.58" height="0.72" fill="#000"/>
<rect x="825.34" y="649.43" width="0.58" height="0.72" fill="#000"/>
<rect x="826.09" y="649.43" width="0.58" height="0.72" fill="#000"/>
<rect x="835.15" y="647.00" width="2.40" height="4.50" fill="#fff"/>
<rect x="836.09" y="648.35" width="0.58" height="0.72" fill="#000"/>
<rect x="835.34" y="648.35" width="0.58" height="0.72" fill="#000"/>
<rect x="836.83" y="648.35" width="0.58" height="0.72" fill="#000"/>
<rect x="836.83" y="650.51" width="0.58" height="0.72" fill="#000"/>
<rect x="849.15" y="647.00" width="2.40" height="4.50" fill="#fff"/>
<rect x="849.34" y="647.27" width="0.58" height="0.72" fill="#000"/>
<rect x="850.09" y="649.43" width="0.58" height="0.72" fill="#000"/>
<rect x="849.34" y="648.35" width="0.58" height="0.72" fill="#000"/>
<rect x="850.83" y="647.27" width="0.58" height="0.72" fill="#000"/>
<rect x="874.65" y="618.60" width="3.80" height="7.80" fill="#fff"/>
<rect x="874.95" y="619.07" width="0.91" height="1.25" fill="#000"/>
<rect x="876.13" y="619.07" width="0.91" height="1.25" fill="#000"/>
<rect x="876.13" y="624.68" width="0.91" height="1.25" fill="#000"/>
<rect x="877.31" y="622.81" width="0.91" height="1.25" fill="#000"/>
<rect x="879.05" y="618.60" width="3.80" height="7.80" fill="#fff"/>
<rect x="880.53" y="622.81" width="0.91" height="1.25" fill="#000"/>
<rect x="881.71" y="622.81" width="0.91" height="1.25" fill="#000"/>
<rect x="880.53" y="619.07" width="0.91" height="1.25" fill="#000"/>
<rect x="879.35" y="622.81" width="0.91" height="1.25" fill="#000"/>
<rect x="883.45" y="618.60" width="3.80" height="7.80" fill="#fff"/>
<rect x="884.93" y="624.68" width="0.91" height="1.25" fill="#000"/>
<rect x="884.93" y="619.07" width="0.91" height="1.25" fill="#000"/>
<rect x="886.11" y="619.07" width="0.91" height="1.25" fill="#000"/>
<rect x="886.11" y="620.94" width="0.91" height="1.25" fill="#000"/>
</svg>
</body></html>
